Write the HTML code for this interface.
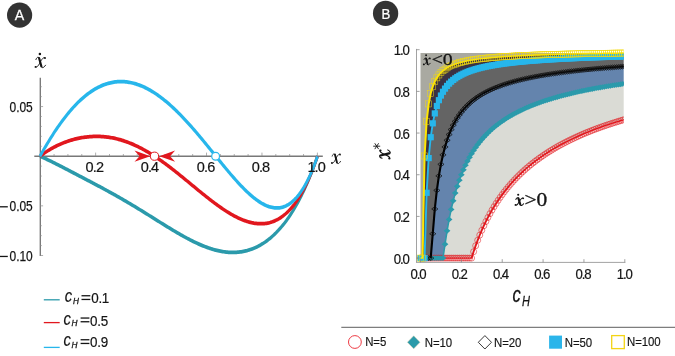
<!DOCTYPE html><html><head><meta charset="utf-8"><style>html,body{margin:0;padding:0;background:#fff}svg{display:block;will-change:transform;opacity:0.999}</style></head><body><svg width="675" height="356" viewBox="0 0 675 356">
<rect width="675" height="356" fill="#fff"/>
<circle cx="19.6" cy="15.1" r="12.6" fill="#333"/>
<text transform="translate(19.50,19.95) scale(0.975,1)" font-family="Liberation Sans" font-size="14.60" text-anchor="middle" fill="#fff" stroke="#fff" stroke-width="0.25">A</text>
<circle cx="385.6" cy="13.4" r="12.65" fill="#333"/>
<text transform="translate(385.90,18.50) scale(0.910,1)" font-family="Liberation Sans" font-size="14.60" text-anchor="middle" fill="#fff" stroke="#fff" stroke-width="0.25">B</text>
<g stroke="#787878" stroke-width="1.35" fill="none">
<line x1="34.3" y1="156.20" x2="322.8" y2="156.20"/>
<line x1="40.30" y1="77.8" x2="40.30" y2="256"/>
</g><g stroke="#8c8c8c" stroke-width="0.7" fill="none">
<line x1="54.06" y1="156.20" x2="54.06" y2="154.00"/>
<line x1="67.92" y1="156.20" x2="67.92" y2="154.00"/>
<line x1="81.78" y1="156.20" x2="81.78" y2="154.00"/>
<line x1="95.64" y1="156.20" x2="95.64" y2="152.60"/>
<line x1="109.50" y1="156.20" x2="109.50" y2="154.00"/>
<line x1="123.36" y1="156.20" x2="123.36" y2="154.00"/>
<line x1="137.22" y1="156.20" x2="137.22" y2="154.00"/>
<line x1="151.08" y1="156.20" x2="151.08" y2="152.60"/>
<line x1="164.94" y1="156.20" x2="164.94" y2="154.00"/>
<line x1="178.80" y1="156.20" x2="178.80" y2="154.00"/>
<line x1="192.66" y1="156.20" x2="192.66" y2="154.00"/>
<line x1="206.52" y1="156.20" x2="206.52" y2="152.60"/>
<line x1="220.38" y1="156.20" x2="220.38" y2="154.00"/>
<line x1="234.24" y1="156.20" x2="234.24" y2="154.00"/>
<line x1="248.10" y1="156.20" x2="248.10" y2="154.00"/>
<line x1="261.96" y1="156.20" x2="261.96" y2="152.60"/>
<line x1="275.82" y1="156.20" x2="275.82" y2="154.00"/>
<line x1="289.68" y1="156.20" x2="289.68" y2="154.00"/>
<line x1="303.54" y1="156.20" x2="303.54" y2="154.00"/>
<line x1="317.40" y1="156.20" x2="317.40" y2="152.60"/>
<line x1="40.20" y1="255.50" x2="43.10" y2="255.50"/>
<line x1="40.20" y1="245.57" x2="41.80" y2="245.57"/>
<line x1="40.20" y1="235.64" x2="41.80" y2="235.64"/>
<line x1="40.20" y1="225.71" x2="41.80" y2="225.71"/>
<line x1="40.20" y1="215.78" x2="41.80" y2="215.78"/>
<line x1="40.20" y1="205.85" x2="43.10" y2="205.85"/>
<line x1="40.20" y1="195.92" x2="41.80" y2="195.92"/>
<line x1="40.20" y1="185.99" x2="41.80" y2="185.99"/>
<line x1="40.20" y1="176.06" x2="41.80" y2="176.06"/>
<line x1="40.20" y1="166.13" x2="41.80" y2="166.13"/>
<line x1="40.20" y1="146.27" x2="41.80" y2="146.27"/>
<line x1="40.20" y1="136.34" x2="41.80" y2="136.34"/>
<line x1="40.20" y1="126.41" x2="41.80" y2="126.41"/>
<line x1="40.20" y1="116.48" x2="41.80" y2="116.48"/>
<line x1="40.20" y1="106.55" x2="43.10" y2="106.55"/>
<line x1="40.20" y1="96.62" x2="41.80" y2="96.62"/>
<line x1="40.20" y1="86.69" x2="41.80" y2="86.69"/>
</g>
<g transform="translate(330.90,153.30) scale(10.100,10.800)" fill="none" stroke="#141414" stroke-linecap="round"><path d="M0.13,0.26 C0.18,0.08 0.32,-0.03 0.41,0.12" stroke-width="0.085"/><path d="M0.40,0.12 L0.60,0.86" stroke-width="0.185"/><path d="M0.60,0.88 C0.65,1.03 0.80,0.99 0.95,0.75" stroke-width="0.085"/><path d="M0.91,0.11 C0.80,0.02 0.68,0.16 0.52,0.44 C0.40,0.66 0.27,0.99 0.10,0.90" stroke-width="0.085"/><circle cx="0.90" cy="0.115" r="0.085" fill="#141414" stroke="none"/><circle cx="0.10" cy="0.895" r="0.085" fill="#141414" stroke="none"/></g>
<g transform="translate(34.40,56.60) scale(11.700,11.500)" fill="none" stroke="#141414" stroke-linecap="round"><path d="M0.13,0.26 C0.18,0.08 0.32,-0.03 0.41,0.12" stroke-width="0.085"/><path d="M0.40,0.12 L0.60,0.86" stroke-width="0.185"/><path d="M0.60,0.88 C0.65,1.03 0.80,0.99 0.95,0.75" stroke-width="0.085"/><path d="M0.91,0.11 C0.80,0.02 0.68,0.16 0.52,0.44 C0.40,0.66 0.27,0.99 0.10,0.90" stroke-width="0.085"/><circle cx="0.90" cy="0.115" r="0.085" fill="#141414" stroke="none"/><circle cx="0.10" cy="0.895" r="0.085" fill="#141414" stroke="none"/></g>
<circle cx="39.9" cy="53.9" r="1.25" fill="#141414"/>
<g transform="scale(0.720,1)"><path d="M55.49,156.32 L57.10,156.80 L58.71,157.29 L60.31,157.80 L61.92,158.32 L63.52,158.84 L65.13,159.38 L66.74,159.92 L68.34,160.47 L69.95,161.03 L71.55,161.59 L73.16,162.16 L74.77,162.74 L76.37,163.31 L77.98,163.90 L79.58,164.48 L81.19,165.07 L82.80,165.66 L84.40,166.26 L86.01,166.85 L87.61,167.45 L89.22,168.05 L90.83,168.65 L92.43,169.25 L94.04,169.85 L95.64,170.45 L97.25,171.06 L98.86,171.66 L100.46,172.27 L102.07,172.87 L103.67,173.47 L105.28,174.08 L106.89,174.68 L108.49,175.29 L110.10,175.89 L111.70,176.50 L113.31,177.10 L114.92,177.71 L116.52,178.32 L118.13,178.92 L119.73,179.53 L121.34,180.14 L122.95,180.74 L124.55,181.35 L126.16,181.96 L127.77,182.57 L129.37,183.18 L130.98,183.79 L132.58,184.41 L134.19,185.02 L135.80,185.64 L137.40,186.25 L139.01,186.87 L140.61,187.49 L142.22,188.12 L143.83,188.74 L145.43,189.37 L147.04,190.00 L148.64,190.63 L150.25,191.26 L151.86,191.89 L153.46,192.53 L155.07,193.17 L156.67,193.82 L158.28,194.46 L159.89,195.11 L161.49,195.76 L163.10,196.42 L164.70,197.07 L166.31,197.73 L167.92,198.39 L169.52,199.06 L171.13,199.73 L172.73,200.40 L174.34,201.08 L175.95,201.75 L177.55,202.43 L179.16,203.12 L180.76,203.80 L182.37,204.49 L183.98,205.19 L185.58,205.88 L187.19,206.58 L188.79,207.28 L190.40,207.98 L192.01,208.69 L193.61,209.39 L195.22,210.10 L196.83,210.82 L198.43,211.53 L200.04,212.25 L201.64,212.96 L203.25,213.68 L204.86,214.40 L206.46,215.12 L208.07,215.85 L209.67,216.57 L211.28,217.30 L212.89,218.02 L214.49,218.75 L216.10,219.47 L217.70,220.20 L219.31,220.92 L220.92,221.64 L222.52,222.37 L224.13,223.09 L225.73,223.81 L227.34,224.53 L228.95,225.25 L230.55,225.96 L232.16,226.68 L233.76,227.39 L235.37,228.09 L236.98,228.80 L238.58,229.50 L240.19,230.19 L241.79,230.88 L243.40,231.57 L245.01,232.26 L246.61,232.93 L248.22,233.60 L249.82,234.27 L251.43,234.93 L253.04,235.58 L254.64,236.23 L256.25,236.87 L257.86,237.50 L259.46,238.13 L261.07,238.74 L262.67,239.35 L264.28,239.95 L265.89,240.54 L267.49,241.12 L269.10,241.68 L270.70,242.24 L272.31,242.79 L273.92,243.33 L275.52,243.85 L277.13,244.37 L278.73,244.87 L280.34,245.36 L281.95,245.83 L283.55,246.30 L285.16,246.74 L286.76,247.18 L288.37,247.60 L289.98,248.00 L291.58,248.39 L293.19,248.77 L294.79,249.13 L296.40,249.47 L298.01,249.79 L299.61,250.10 L301.22,250.39 L302.82,250.67 L304.43,250.92 L306.04,251.16 L307.64,251.38 L309.25,251.57 L310.85,251.75 L312.46,251.91 L314.07,252.05 L315.67,252.17 L317.28,252.26 L318.88,252.34 L320.49,252.39 L322.10,252.42 L323.70,252.43 L325.31,252.41 L326.92,252.37 L328.52,252.31 L330.13,252.22 L331.73,252.11 L333.34,251.97 L334.95,251.81 L336.55,251.62 L338.16,251.41 L339.76,251.17 L341.37,250.90 L342.98,250.61 L344.58,250.28 L346.19,249.93 L347.79,249.55 L349.40,249.15 L351.01,248.71 L352.61,248.24 L354.22,247.74 L355.82,247.21 L357.43,246.65 L359.04,246.06 L360.64,245.43 L362.25,244.78 L363.85,244.09 L365.46,243.36 L367.07,242.60 L368.67,241.81 L370.28,240.98 L371.88,240.11 L373.49,239.21 L375.10,238.27 L376.70,237.29 L378.31,236.27 L379.91,235.22 L381.52,234.12 L383.13,232.99 L384.73,231.81 L386.34,230.59 L387.94,229.32 L389.55,228.02 L391.16,226.67 L392.76,225.27 L394.37,223.82 L395.98,222.33 L397.58,220.79 L399.19,219.20 L400.79,217.57 L402.40,215.87 L404.01,214.13 L405.61,212.33 L407.22,210.48 L408.82,208.57 L410.43,206.61 L412.04,204.59 L413.64,202.50 L415.25,200.36 L416.85,198.15 L418.46,195.88 L420.07,193.54 L421.67,191.13 L423.28,188.66 L424.88,186.11 L426.49,183.49 L428.10,180.80 L429.70,178.03 L431.31,175.18 L432.91,172.25 L434.52,169.24 L436.13,166.14 L437.73,162.96 L439.34,159.68 L440.94,156.32" fill="none" stroke="#2b9aab" stroke-width="3.75" stroke-linejoin="round"/></g>
<g transform="scale(0.720,1)"><path d="M55.49,156.32 L57.10,155.43 L58.71,154.57 L60.31,153.73 L61.92,152.92 L63.52,152.14 L65.13,151.38 L66.74,150.64 L68.34,149.93 L69.95,149.24 L71.55,148.58 L73.16,147.93 L74.77,147.30 L76.37,146.70 L77.98,146.12 L79.58,145.55 L81.19,145.01 L82.80,144.48 L84.40,143.97 L86.01,143.48 L87.61,143.01 L89.22,142.55 L90.83,142.11 L92.43,141.69 L94.04,141.29 L95.64,140.90 L97.25,140.53 L98.86,140.18 L100.46,139.84 L102.07,139.52 L103.67,139.21 L105.28,138.92 L106.89,138.64 L108.49,138.39 L110.10,138.14 L111.70,137.92 L113.31,137.71 L114.92,137.51 L116.52,137.33 L118.13,137.17 L119.73,137.02 L121.34,136.88 L122.95,136.77 L124.55,136.66 L126.16,136.58 L127.77,136.51 L129.37,136.45 L130.98,136.42 L132.58,136.39 L134.19,136.39 L135.80,136.40 L137.40,136.42 L139.01,136.46 L140.61,136.52 L142.22,136.59 L143.83,136.68 L145.43,136.79 L147.04,136.91 L148.64,137.05 L150.25,137.20 L151.86,137.37 L153.46,137.56 L155.07,137.76 L156.67,137.98 L158.28,138.21 L159.89,138.46 L161.49,138.73 L163.10,139.02 L164.70,139.32 L166.31,139.63 L167.92,139.96 L169.52,140.31 L171.13,140.68 L172.73,141.06 L174.34,141.45 L175.95,141.86 L177.55,142.29 L179.16,142.73 L180.76,143.19 L182.37,143.67 L183.98,144.16 L185.58,144.66 L187.19,145.18 L188.79,145.72 L190.40,146.27 L192.01,146.83 L193.61,147.41 L195.22,148.00 L196.83,148.61 L198.43,149.23 L200.04,149.87 L201.64,150.52 L203.25,151.18 L204.86,151.85 L206.46,152.54 L208.07,153.24 L209.67,153.96 L211.28,154.68 L212.89,155.42 L214.49,156.17 L216.10,156.94 L217.70,157.71 L219.31,158.49 L220.92,159.29 L222.52,160.09 L224.13,160.91 L225.73,161.74 L227.34,162.57 L228.95,163.42 L230.55,164.27 L232.16,165.13 L233.76,166.00 L235.37,166.88 L236.98,167.76 L238.58,168.66 L240.19,169.56 L241.79,170.46 L243.40,171.37 L245.01,172.29 L246.61,173.22 L248.22,174.14 L249.82,175.08 L251.43,176.01 L253.04,176.96 L254.64,177.90 L256.25,178.85 L257.86,179.80 L259.46,180.75 L261.07,181.70 L262.67,182.66 L264.28,183.61 L265.89,184.57 L267.49,185.53 L269.10,186.48 L270.70,187.44 L272.31,188.39 L273.92,189.34 L275.52,190.29 L277.13,191.24 L278.73,192.18 L280.34,193.12 L281.95,194.05 L283.55,194.98 L285.16,195.91 L286.76,196.83 L288.37,197.74 L289.98,198.65 L291.58,199.55 L293.19,200.44 L294.79,201.33 L296.40,202.20 L298.01,203.07 L299.61,203.93 L301.22,204.77 L302.82,205.61 L304.43,206.44 L306.04,207.25 L307.64,208.05 L309.25,208.84 L310.85,209.61 L312.46,210.37 L314.07,211.12 L315.67,211.85 L317.28,212.57 L318.88,213.26 L320.49,213.95 L322.10,214.61 L323.70,215.26 L325.31,215.89 L326.92,216.50 L328.52,217.09 L330.13,217.66 L331.73,218.21 L333.34,218.73 L334.95,219.24 L336.55,219.72 L338.16,220.18 L339.76,220.61 L341.37,221.02 L342.98,221.41 L344.58,221.76 L346.19,222.09 L347.79,222.39 L349.40,222.67 L351.01,222.91 L352.61,223.13 L354.22,223.31 L355.82,223.46 L357.43,223.58 L359.04,223.67 L360.64,223.72 L362.25,223.74 L363.85,223.72 L365.46,223.66 L367.07,223.57 L368.67,223.44 L370.28,223.27 L371.88,223.05 L373.49,222.80 L375.10,222.50 L376.70,222.16 L378.31,221.78 L379.91,221.35 L381.52,220.87 L383.13,220.34 L384.73,219.77 L386.34,219.14 L387.94,218.47 L389.55,217.74 L391.16,216.95 L392.76,216.11 L394.37,215.21 L395.98,214.25 L397.58,213.24 L399.19,212.16 L400.79,211.01 L402.40,209.81 L404.01,208.53 L405.61,207.19 L407.22,205.78 L408.82,204.30 L410.43,202.74 L412.04,201.11 L413.64,199.40 L415.25,197.61 L416.85,195.74 L418.46,193.78 L420.07,191.74 L421.67,189.61 L423.28,187.40 L424.88,185.09 L426.49,182.68 L428.10,180.18 L429.70,177.57 L431.31,174.87 L432.91,172.06 L434.52,169.14 L436.13,166.11 L437.73,162.96 L439.34,159.70 L440.94,156.32" fill="none" stroke="#e1171e" stroke-width="3.75" stroke-linejoin="round"/></g>
<g transform="scale(0.720,1)"><path d="M55.49,156.32 L57.10,154.25 L58.71,152.20 L60.31,150.18 L61.92,148.18 L63.52,146.20 L65.13,144.25 L66.74,142.33 L68.34,140.43 L69.95,138.56 L71.55,136.71 L73.16,134.90 L74.77,133.11 L76.37,131.34 L77.98,129.61 L79.58,127.90 L81.19,126.23 L82.80,124.58 L84.40,122.96 L86.01,121.37 L87.61,119.82 L89.22,118.29 L90.83,116.79 L92.43,115.32 L94.04,113.88 L95.64,112.48 L97.25,111.10 L98.86,109.76 L100.46,108.45 L102.07,107.16 L103.67,105.91 L105.28,104.70 L106.89,103.51 L108.49,102.35 L110.10,101.23 L111.70,100.14 L113.31,99.08 L114.92,98.05 L116.52,97.05 L118.13,96.08 L119.73,95.15 L121.34,94.25 L122.95,93.38 L124.55,92.54 L126.16,91.73 L127.77,90.96 L129.37,90.21 L130.98,89.50 L132.58,88.82 L134.19,88.17 L135.80,87.55 L137.40,86.96 L139.01,86.41 L140.61,85.88 L142.22,85.39 L143.83,84.92 L145.43,84.49 L147.04,84.09 L148.64,83.72 L150.25,83.38 L151.86,83.06 L153.46,82.78 L155.07,82.53 L156.67,82.31 L158.28,82.12 L159.89,81.96 L161.49,81.83 L163.10,81.73 L164.70,81.65 L166.31,81.61 L167.92,81.59 L169.52,81.61 L171.13,81.65 L172.73,81.72 L174.34,81.82 L175.95,81.94 L177.55,82.10 L179.16,82.28 L180.76,82.49 L182.37,82.73 L183.98,82.99 L185.58,83.28 L187.19,83.60 L188.79,83.94 L190.40,84.31 L192.01,84.71 L193.61,85.13 L195.22,85.58 L196.83,86.05 L198.43,86.55 L200.04,87.07 L201.64,87.62 L203.25,88.20 L204.86,88.79 L206.46,89.42 L208.07,90.06 L209.67,90.73 L211.28,91.42 L212.89,92.14 L214.49,92.88 L216.10,93.64 L217.70,94.42 L219.31,95.23 L220.92,96.06 L222.52,96.91 L224.13,97.78 L225.73,98.67 L227.34,99.58 L228.95,100.51 L230.55,101.47 L232.16,102.44 L233.76,103.43 L235.37,104.44 L236.98,105.47 L238.58,106.52 L240.19,107.59 L241.79,108.67 L243.40,109.77 L245.01,110.89 L246.61,112.03 L248.22,113.18 L249.82,114.35 L251.43,115.53 L253.04,116.73 L254.64,117.95 L256.25,119.17 L257.86,120.42 L259.46,121.67 L261.07,122.94 L262.67,124.22 L264.28,125.52 L265.89,126.82 L267.49,128.14 L269.10,129.47 L270.70,130.81 L272.31,132.16 L273.92,133.51 L275.52,134.88 L277.13,136.26 L278.73,137.64 L280.34,139.03 L281.95,140.43 L283.55,141.83 L285.16,143.24 L286.76,144.65 L288.37,146.07 L289.98,147.49 L291.58,148.92 L293.19,150.34 L294.79,151.77 L296.40,153.20 L298.01,154.63 L299.61,156.06 L301.22,157.49 L302.82,158.92 L304.43,160.35 L306.04,161.77 L307.64,163.19 L309.25,164.60 L310.85,166.01 L312.46,167.41 L314.07,168.81 L315.67,170.20 L317.28,171.58 L318.88,172.95 L320.49,174.31 L322.10,175.65 L323.70,176.99 L325.31,178.31 L326.92,179.62 L328.52,180.91 L330.13,182.19 L331.73,183.45 L333.34,184.69 L334.95,185.91 L336.55,187.12 L338.16,188.30 L339.76,189.46 L341.37,190.60 L342.98,191.71 L344.58,192.79 L346.19,193.85 L347.79,194.88 L349.40,195.89 L351.01,196.86 L352.61,197.80 L354.22,198.71 L355.82,199.58 L357.43,200.42 L359.04,201.22 L360.64,201.98 L362.25,202.71 L363.85,203.39 L365.46,204.03 L367.07,204.63 L368.67,205.18 L370.28,205.69 L371.88,206.15 L373.49,206.56 L375.10,206.92 L376.70,207.22 L378.31,207.48 L379.91,207.67 L381.52,207.81 L383.13,207.89 L384.73,207.91 L386.34,207.87 L387.94,207.77 L389.55,207.60 L391.16,207.36 L392.76,207.06 L394.37,206.68 L395.98,206.23 L397.58,205.71 L399.19,205.11 L400.79,204.43 L402.40,203.67 L404.01,202.84 L405.61,201.91 L407.22,200.91 L408.82,199.81 L410.43,198.63 L412.04,197.35 L413.64,195.98 L415.25,194.52 L416.85,192.95 L418.46,191.29 L420.07,189.53 L421.67,187.66 L423.28,185.69 L424.88,183.60 L426.49,181.41 L428.10,179.10 L429.70,176.68 L431.31,174.14 L432.91,171.49 L434.52,168.71 L436.13,165.80 L437.73,162.77 L439.34,159.61 L440.94,156.32" fill="none" stroke="#27b6eb" stroke-width="3.75" stroke-linejoin="round"/></g>
<path d="M150.30,156.20 L134.50,150.60 L139.50,156.20 L134.50,161.80 Z" fill="#e1171e"/>
<path d="M159.30,156.20 L175.10,150.60 L170.10,156.20 L175.10,161.80 Z" fill="#e1171e"/>
<circle cx="154.5" cy="156.20" r="4.1" fill="#fff" stroke="#e1171e" stroke-width="1.0"/>
<circle cx="215.6" cy="156.20" r="3.9" fill="#fff" stroke="#27b6eb" stroke-width="1.2"/>
<text transform="translate(85.50,172.20) scale(1.000,1)" font-family="Liberation Sans" font-size="14.50" text-anchor="start" fill="#141414" letter-spacing="-0.85" stroke="#141414" stroke-width="0.20">0.2</text>
<text transform="translate(140.70,172.20) scale(1.000,1)" font-family="Liberation Sans" font-size="14.50" text-anchor="start" fill="#141414" letter-spacing="-0.85" stroke="#141414" stroke-width="0.20">0.4</text>
<text transform="translate(196.80,172.20) scale(1.000,1)" font-family="Liberation Sans" font-size="14.50" text-anchor="start" fill="#141414" letter-spacing="-0.85" stroke="#141414" stroke-width="0.20">0.6</text>
<text transform="translate(251.70,172.20) scale(1.000,1)" font-family="Liberation Sans" font-size="14.50" text-anchor="start" fill="#141414" letter-spacing="-0.85" stroke="#141414" stroke-width="0.20">0.8</text>
<text transform="translate(307.40,172.20) scale(1.000,1)" font-family="Liberation Sans" font-size="14.50" text-anchor="start" fill="#141414" letter-spacing="-0.85" stroke="#141414" stroke-width="0.20">1.0</text>
<text transform="translate(9.50,112.00) scale(0.787,1)" font-family="Liberation Sans" font-size="15.20" text-anchor="start" fill="#141414" stroke="#141414" stroke-width="0.25">0.05</text>
<text transform="translate(9.50,211.30) scale(0.787,1)" font-family="Liberation Sans" font-size="15.20" text-anchor="start" fill="#141414" stroke="#141414" stroke-width="0.25">0.05</text>
<rect x="-1" y="206.15" width="8.8" height="1.3" fill="#141414"/>
<text transform="translate(9.50,260.95) scale(0.787,1)" font-family="Liberation Sans" font-size="15.20" text-anchor="start" fill="#141414" stroke="#141414" stroke-width="0.25">0.10</text>
<rect x="-1" y="255.80" width="8.8" height="1.3" fill="#141414"/>
<line x1="43.8" y1="299.80" x2="59.7" y2="299.80" stroke="#2b9aab" stroke-width="1.3"/>
<text transform="translate(64.70,302.40) scale(0.820,1)" font-family="Liberation Sans" font-size="18.00" text-anchor="start" fill="#141414" font-style="italic" stroke="#141414" stroke-width="0.20">c</text>
<text transform="translate(73.00,304.10) scale(0.860,1)" font-family="Liberation Sans" font-size="9.60" text-anchor="start" fill="#141414" font-style="italic" stroke="#141414" stroke-width="0.30">H</text>
<rect x="81.50" y="295.10" width="8.8" height="1.3" fill="#141414"/><rect x="81.50" y="298.80" width="8.8" height="1.3" fill="#141414"/>
<text transform="translate(91.20,303.20) scale(0.920,1)" font-family="Liberation Sans" font-size="14.60" text-anchor="start" fill="#141414" letter-spacing="-0.30" stroke="#141414" stroke-width="0.20">0.1</text>
<line x1="43.8" y1="322.60" x2="59.7" y2="322.60" stroke="#e1171e" stroke-width="1.3"/>
<text transform="translate(63.40,324.70) scale(0.820,1)" font-family="Liberation Sans" font-size="18.00" text-anchor="start" fill="#141414" font-style="italic" stroke="#141414" stroke-width="0.20">c</text>
<text transform="translate(71.40,326.40) scale(0.860,1)" font-family="Liberation Sans" font-size="9.60" text-anchor="start" fill="#141414" font-style="italic" stroke="#141414" stroke-width="0.30">H</text>
<rect x="80.60" y="317.40" width="8.8" height="1.3" fill="#141414"/><rect x="80.60" y="321.10" width="8.8" height="1.3" fill="#141414"/>
<text transform="translate(90.10,325.50) scale(0.920,1)" font-family="Liberation Sans" font-size="14.60" text-anchor="start" fill="#141414" letter-spacing="-0.30" stroke="#141414" stroke-width="0.20">0.5</text>
<line x1="43.8" y1="347.40" x2="59.7" y2="347.40" stroke="#27b6eb" stroke-width="1.3"/>
<text transform="translate(63.40,346.40) scale(0.820,1)" font-family="Liberation Sans" font-size="18.00" text-anchor="start" fill="#141414" font-style="italic" stroke="#141414" stroke-width="0.20">c</text>
<text transform="translate(71.40,348.10) scale(0.860,1)" font-family="Liberation Sans" font-size="9.60" text-anchor="start" fill="#141414" font-style="italic" stroke="#141414" stroke-width="0.30">H</text>
<rect x="80.60" y="339.10" width="8.8" height="1.3" fill="#141414"/><rect x="80.60" y="342.80" width="8.8" height="1.3" fill="#141414"/>
<text transform="translate(90.10,347.20) scale(0.920,1)" font-family="Liberation Sans" font-size="14.60" text-anchor="start" fill="#141414" letter-spacing="-0.30" stroke="#141414" stroke-width="0.20">0.9</text>
<clipPath id="cm"><rect x="410" y="40" width="213.70" height="230"/></clipPath>
<g clip-path="url(#cm)">
<path d="M420.50,53.03 L422.54,53.03 L424.59,53.03 L426.63,53.03 L428.67,53.03 L430.71,53.03 L432.76,53.03 L434.80,53.03 L436.84,53.03 L438.89,53.03 L440.93,53.03 L442.97,53.03 L445.02,53.03 L447.06,53.03 L449.10,53.03 L451.14,53.03 L453.19,53.03 L455.23,53.03 L457.27,53.03 L459.32,53.03 L461.36,53.03 L463.40,53.03 L465.45,53.03 L467.49,53.03 L469.53,53.03 L471.57,53.03 L473.62,53.03 L475.66,53.03 L477.70,53.03 L479.75,53.03 L481.79,53.03 L483.83,53.03 L485.88,53.03 L487.92,53.03 L489.96,53.03 L492.00,53.03 L494.05,53.03 L496.09,53.03 L498.13,53.03 L500.18,53.03 L502.22,53.03 L504.26,53.03 L506.31,53.03 L508.35,53.03 L510.39,53.03 L512.43,53.03 L514.48,53.03 L516.52,53.03 L518.56,53.03 L520.61,53.03 L522.65,53.03 L524.69,53.03 L526.74,53.03 L528.78,53.03 L530.82,53.03 L532.87,53.03 L534.91,53.03 L536.95,53.03 L538.99,53.03 L541.04,53.03 L543.08,53.03 L545.12,53.03 L547.17,53.03 L549.21,53.03 L551.25,53.03 L553.30,53.03 L555.34,53.03 L557.38,53.03 L559.42,53.03 L561.47,53.03 L563.51,53.03 L565.55,53.03 L567.60,53.03 L569.64,53.03 L571.68,53.03 L573.73,53.03 L575.77,53.03 L577.81,53.03 L579.85,53.03 L581.90,53.03 L583.94,53.03 L585.98,53.03 L588.03,53.03 L590.07,53.03 L592.11,53.03 L594.15,53.03 L596.20,53.03 L598.24,53.03 L600.28,53.03 L602.33,53.03 L604.37,53.03 L606.41,53.03 L608.46,53.03 L610.50,53.03 L612.54,53.03 L614.59,53.03 L616.63,53.03 L618.67,53.03 L620.71,53.03 L622.76,53.03 L624.80,53.03 L624.80,53.03 L622.76,53.06 L620.71,53.08 L618.67,53.11 L616.63,53.14 L614.59,53.17 L612.54,53.21 L610.50,53.24 L608.46,53.27 L606.41,53.30 L604.37,53.34 L602.33,53.37 L600.28,53.40 L598.24,53.44 L596.20,53.48 L594.15,53.51 L592.11,53.55 L590.07,53.59 L588.03,53.63 L585.98,53.67 L583.94,53.71 L581.90,53.75 L579.85,53.79 L577.81,53.84 L575.77,53.88 L573.73,53.93 L571.68,53.98 L569.64,54.02 L567.60,54.07 L565.55,54.12 L563.51,54.18 L561.47,54.23 L559.42,54.28 L557.38,54.34 L555.34,54.40 L553.30,54.46 L551.25,54.52 L549.21,54.58 L547.17,54.64 L545.12,54.71 L543.08,54.78 L541.04,54.85 L538.99,54.92 L536.95,55.00 L534.91,55.07 L532.87,55.15 L530.82,55.23 L528.78,55.32 L526.74,55.41 L524.69,55.50 L522.65,55.59 L520.61,55.69 L518.56,55.79 L516.52,55.89 L514.48,56.00 L512.43,56.11 L510.39,56.23 L508.35,56.35 L506.31,56.48 L504.26,56.62 L502.22,56.76 L500.18,56.90 L498.13,57.05 L496.09,57.22 L494.05,57.38 L492.00,57.56 L489.96,57.75 L487.92,57.95 L485.88,58.16 L483.83,58.38 L481.79,58.61 L479.75,58.86 L477.70,59.13 L475.66,59.42 L473.62,59.72 L471.57,60.05 L469.53,60.41 L467.49,60.80 L465.45,61.22 L463.40,61.67 L461.36,62.18 L459.32,62.73 L457.27,63.35 L455.23,64.03 L453.19,64.80 L451.14,65.67 L449.10,66.67 L447.06,67.81 L445.02,69.15 L442.97,70.73 L440.93,72.62 L438.89,74.94 L436.84,77.83 L434.80,81.56 L432.76,86.52 L430.71,93.46 L428.67,103.88 L426.63,121.25 L424.59,155.98 L422.54,258.10 L420.50,258.10 Z" fill="#a9a9a1"/>
<path d="M420.50,258.10 L422.54,258.10 L424.59,155.98 L426.63,121.25 L428.67,103.88 L430.71,93.46 L432.76,86.52 L434.80,81.56 L436.84,77.83 L438.89,74.94 L440.93,72.62 L442.97,70.73 L445.02,69.15 L447.06,67.81 L449.10,66.67 L451.14,65.67 L453.19,64.80 L455.23,64.03 L457.27,63.35 L459.32,62.73 L461.36,62.18 L463.40,61.67 L465.45,61.22 L467.49,60.80 L469.53,60.41 L471.57,60.05 L473.62,59.72 L475.66,59.42 L477.70,59.13 L479.75,58.86 L481.79,58.61 L483.83,58.38 L485.88,58.16 L487.92,57.95 L489.96,57.75 L492.00,57.56 L494.05,57.38 L496.09,57.22 L498.13,57.05 L500.18,56.90 L502.22,56.76 L504.26,56.62 L506.31,56.48 L508.35,56.35 L510.39,56.23 L512.43,56.11 L514.48,56.00 L516.52,55.89 L518.56,55.79 L520.61,55.69 L522.65,55.59 L524.69,55.50 L526.74,55.41 L528.78,55.32 L530.82,55.23 L532.87,55.15 L534.91,55.07 L536.95,55.00 L538.99,54.92 L541.04,54.85 L543.08,54.78 L545.12,54.71 L547.17,54.64 L549.21,54.58 L551.25,54.52 L553.30,54.46 L555.34,54.40 L557.38,54.34 L559.42,54.28 L561.47,54.23 L563.51,54.18 L565.55,54.12 L567.60,54.07 L569.64,54.02 L571.68,53.98 L573.73,53.93 L575.77,53.88 L577.81,53.84 L579.85,53.79 L581.90,53.75 L583.94,53.71 L585.98,53.67 L588.03,53.63 L590.07,53.59 L592.11,53.55 L594.15,53.51 L596.20,53.48 L598.24,53.44 L600.28,53.40 L602.33,53.37 L604.37,53.34 L606.41,53.30 L608.46,53.27 L610.50,53.24 L612.54,53.21 L614.59,53.17 L616.63,53.14 L618.67,53.11 L620.71,53.08 L622.76,53.06 L624.80,53.03 L624.80,56.37 L622.76,56.43 L620.71,56.48 L618.67,56.54 L616.63,56.60 L614.59,56.66 L612.54,56.73 L610.50,56.79 L608.46,56.85 L606.41,56.92 L604.37,56.99 L602.33,57.05 L600.28,57.12 L598.24,57.20 L596.20,57.27 L594.15,57.34 L592.11,57.42 L590.07,57.49 L588.03,57.57 L585.98,57.65 L583.94,57.74 L581.90,57.82 L579.85,57.91 L577.81,57.99 L575.77,58.08 L573.73,58.18 L571.68,58.27 L569.64,58.37 L567.60,58.47 L565.55,58.57 L563.51,58.67 L561.47,58.78 L559.42,58.89 L557.38,59.00 L555.34,59.11 L553.30,59.23 L551.25,59.35 L549.21,59.48 L547.17,59.61 L545.12,59.74 L543.08,59.88 L541.04,60.02 L538.99,60.16 L536.95,60.31 L534.91,60.46 L532.87,60.62 L530.82,60.79 L528.78,60.95 L526.74,61.13 L524.69,61.31 L522.65,61.50 L520.61,61.69 L518.56,61.89 L516.52,62.10 L514.48,62.32 L512.43,62.55 L510.39,62.78 L508.35,63.03 L506.31,63.28 L504.26,63.55 L502.22,63.83 L500.18,64.12 L498.13,64.43 L496.09,64.75 L494.05,65.09 L492.00,65.44 L489.96,65.81 L487.92,66.21 L485.88,66.63 L483.83,67.07 L481.79,67.54 L479.75,68.04 L477.70,68.58 L475.66,69.15 L473.62,69.76 L471.57,70.42 L469.53,71.13 L467.49,71.90 L465.45,72.74 L463.40,73.66 L461.36,74.66 L459.32,75.77 L457.27,77.00 L455.23,78.37 L453.19,79.90 L451.14,81.65 L449.10,83.63 L447.06,85.93 L445.02,88.60 L442.97,91.76 L440.93,95.55 L438.89,100.18 L436.84,105.97 L434.80,113.41 L432.76,123.33 L430.71,137.23 L428.67,158.07 L426.63,192.80 L424.59,258.10 L422.54,258.10 L420.50,258.10 Z" fill="#3a3244"/>
<path d="M420.50,258.10 L422.54,258.10 L424.59,258.10 L426.63,192.80 L428.67,158.07 L430.71,137.23 L432.76,123.33 L434.80,113.41 L436.84,105.97 L438.89,100.18 L440.93,95.55 L442.97,91.76 L445.02,88.60 L447.06,85.93 L449.10,83.63 L451.14,81.65 L453.19,79.90 L455.23,78.37 L457.27,77.00 L459.32,75.77 L461.36,74.66 L463.40,73.66 L465.45,72.74 L467.49,71.90 L469.53,71.13 L471.57,70.42 L473.62,69.76 L475.66,69.15 L477.70,68.58 L479.75,68.04 L481.79,67.54 L483.83,67.07 L485.88,66.63 L487.92,66.21 L489.96,65.81 L492.00,65.44 L494.05,65.09 L496.09,64.75 L498.13,64.43 L500.18,64.12 L502.22,63.83 L504.26,63.55 L506.31,63.28 L508.35,63.03 L510.39,62.78 L512.43,62.55 L514.48,62.32 L516.52,62.10 L518.56,61.89 L520.61,61.69 L522.65,61.50 L524.69,61.31 L526.74,61.13 L528.78,60.95 L530.82,60.79 L532.87,60.62 L534.91,60.46 L536.95,60.31 L538.99,60.16 L541.04,60.02 L543.08,59.88 L545.12,59.74 L547.17,59.61 L549.21,59.48 L551.25,59.35 L553.30,59.23 L555.34,59.11 L557.38,59.00 L559.42,58.89 L561.47,58.78 L563.51,58.67 L565.55,58.57 L567.60,58.47 L569.64,58.37 L571.68,58.27 L573.73,58.18 L575.77,58.08 L577.81,57.99 L579.85,57.91 L581.90,57.82 L583.94,57.74 L585.98,57.65 L588.03,57.57 L590.07,57.49 L592.11,57.42 L594.15,57.34 L596.20,57.27 L598.24,57.20 L600.28,57.12 L602.33,57.05 L604.37,56.99 L606.41,56.92 L608.46,56.85 L610.50,56.79 L612.54,56.73 L614.59,56.66 L616.63,56.60 L618.67,56.54 L620.71,56.48 L622.76,56.43 L624.80,56.37 L624.80,66.48 L622.76,66.63 L620.71,66.77 L618.67,66.92 L616.63,67.07 L614.59,67.22 L612.54,67.38 L610.50,67.54 L608.46,67.70 L606.41,67.86 L604.37,68.03 L602.33,68.20 L600.28,68.38 L598.24,68.56 L596.20,68.74 L594.15,68.93 L592.11,69.12 L590.07,69.31 L588.03,69.51 L585.98,69.71 L583.94,69.92 L581.90,70.13 L579.85,70.34 L577.81,70.57 L575.77,70.79 L573.73,71.02 L571.68,71.26 L569.64,71.50 L567.60,71.75 L565.55,72.01 L563.51,72.27 L561.47,72.53 L559.42,72.81 L557.38,73.09 L555.34,73.38 L553.30,73.67 L551.25,73.98 L549.21,74.29 L547.17,74.61 L545.12,74.95 L543.08,75.29 L541.04,75.64 L538.99,76.00 L536.95,76.37 L534.91,76.76 L532.87,77.15 L530.82,77.56 L528.78,77.99 L526.74,78.42 L524.69,78.88 L522.65,79.35 L520.61,79.83 L518.56,80.34 L516.52,80.86 L514.48,81.40 L512.43,81.97 L510.39,82.56 L508.35,83.17 L506.31,83.81 L504.26,84.47 L502.22,85.17 L500.18,85.90 L498.13,86.66 L496.09,87.46 L494.05,88.30 L492.00,89.19 L489.96,90.12 L487.92,91.10 L485.88,92.14 L483.83,93.25 L481.79,94.42 L479.75,95.66 L477.70,96.99 L475.66,98.42 L473.62,99.94 L471.57,101.59 L469.53,103.36 L467.49,105.28 L465.45,107.37 L463.40,109.65 L461.36,112.15 L459.32,114.91 L457.27,117.97 L455.23,121.39 L453.19,125.23 L451.14,129.58 L449.10,134.54 L447.06,140.27 L445.02,146.95 L442.97,154.85 L440.93,164.32 L438.89,175.90 L436.84,190.37 L434.80,208.98 L432.76,233.79 L430.71,258.10 L428.67,258.10 L426.63,258.10 L424.59,258.10 L422.54,258.10 L420.50,258.10 Z" fill="#646464"/>
<path d="M420.50,258.10 L422.54,258.10 L424.59,258.10 L426.63,258.10 L428.67,258.10 L430.71,258.10 L432.76,233.79 L434.80,208.98 L436.84,190.37 L438.89,175.90 L440.93,164.32 L442.97,154.85 L445.02,146.95 L447.06,140.27 L449.10,134.54 L451.14,129.58 L453.19,125.23 L455.23,121.39 L457.27,117.97 L459.32,114.91 L461.36,112.15 L463.40,109.65 L465.45,107.37 L467.49,105.28 L469.53,103.36 L471.57,101.59 L473.62,99.94 L475.66,98.42 L477.70,96.99 L479.75,95.66 L481.79,94.42 L483.83,93.25 L485.88,92.14 L487.92,91.10 L489.96,90.12 L492.00,89.19 L494.05,88.30 L496.09,87.46 L498.13,86.66 L500.18,85.90 L502.22,85.17 L504.26,84.47 L506.31,83.81 L508.35,83.17 L510.39,82.56 L512.43,81.97 L514.48,81.40 L516.52,80.86 L518.56,80.34 L520.61,79.83 L522.65,79.35 L524.69,78.88 L526.74,78.42 L528.78,77.99 L530.82,77.56 L532.87,77.15 L534.91,76.76 L536.95,76.37 L538.99,76.00 L541.04,75.64 L543.08,75.29 L545.12,74.95 L547.17,74.61 L549.21,74.29 L551.25,73.98 L553.30,73.67 L555.34,73.38 L557.38,73.09 L559.42,72.81 L561.47,72.53 L563.51,72.27 L565.55,72.01 L567.60,71.75 L569.64,71.50 L571.68,71.26 L573.73,71.02 L575.77,70.79 L577.81,70.57 L579.85,70.34 L581.90,70.13 L583.94,69.92 L585.98,69.71 L588.03,69.51 L590.07,69.31 L592.11,69.12 L594.15,68.93 L596.20,68.74 L598.24,68.56 L600.28,68.38 L602.33,68.20 L604.37,68.03 L606.41,67.86 L608.46,67.70 L610.50,67.54 L612.54,67.38 L614.59,67.22 L616.63,67.07 L618.67,66.92 L620.71,66.77 L622.76,66.63 L624.80,66.48 L624.80,83.66 L622.76,83.94 L620.71,84.24 L618.67,84.54 L616.63,84.84 L614.59,85.15 L612.54,85.47 L610.50,85.79 L608.46,86.12 L606.41,86.45 L604.37,86.79 L602.33,87.14 L600.28,87.49 L598.24,87.85 L596.20,88.22 L594.15,88.60 L592.11,88.98 L590.07,89.37 L588.03,89.77 L585.98,90.18 L583.94,90.60 L581.90,91.02 L579.85,91.46 L577.81,91.91 L575.77,92.36 L573.73,92.83 L571.68,93.31 L569.64,93.79 L567.60,94.29 L565.55,94.81 L563.51,95.33 L561.47,95.87 L559.42,96.42 L557.38,96.99 L555.34,97.57 L553.30,98.16 L551.25,98.78 L549.21,99.40 L547.17,100.05 L545.12,100.72 L543.08,101.40 L541.04,102.11 L538.99,102.83 L536.95,103.58 L534.91,104.35 L532.87,105.14 L530.82,105.96 L528.78,106.81 L526.74,107.69 L524.69,108.59 L522.65,109.53 L520.61,110.50 L518.56,111.51 L516.52,112.55 L514.48,113.64 L512.43,114.76 L510.39,115.93 L508.35,117.15 L506.31,118.42 L504.26,119.75 L502.22,121.13 L500.18,122.58 L498.13,124.10 L496.09,125.69 L494.05,127.36 L492.00,129.12 L489.96,130.97 L487.92,132.92 L485.88,134.99 L483.83,137.17 L481.79,139.50 L479.75,141.97 L477.70,144.61 L475.66,147.43 L473.62,150.46 L471.57,153.71 L469.53,157.23 L467.49,161.05 L465.45,165.19 L463.40,169.73 L461.36,174.71 L459.32,180.21 L457.27,186.31 L455.23,193.12 L453.19,200.79 L451.14,209.47 L449.10,219.40 L447.06,230.85 L445.02,244.21 L442.97,258.10 L440.93,258.10 L438.89,258.10 L436.84,258.10 L434.80,258.10 L432.76,258.10 L430.71,258.10 L428.67,258.10 L426.63,258.10 L424.59,258.10 L422.54,258.10 L420.50,258.10 Z" fill="#6484ad"/>
<path d="M420.50,258.10 L422.54,258.10 L424.59,258.10 L426.63,258.10 L428.67,258.10 L430.71,258.10 L432.76,258.10 L434.80,258.10 L436.84,258.10 L438.89,258.10 L440.93,258.10 L442.97,258.10 L445.02,244.21 L447.06,230.85 L449.10,219.40 L451.14,209.47 L453.19,200.79 L455.23,193.12 L457.27,186.31 L459.32,180.21 L461.36,174.71 L463.40,169.73 L465.45,165.19 L467.49,161.05 L469.53,157.23 L471.57,153.71 L473.62,150.46 L475.66,147.43 L477.70,144.61 L479.75,141.97 L481.79,139.50 L483.83,137.17 L485.88,134.99 L487.92,132.92 L489.96,130.97 L492.00,129.12 L494.05,127.36 L496.09,125.69 L498.13,124.10 L500.18,122.58 L502.22,121.13 L504.26,119.75 L506.31,118.42 L508.35,117.15 L510.39,115.93 L512.43,114.76 L514.48,113.64 L516.52,112.55 L518.56,111.51 L520.61,110.50 L522.65,109.53 L524.69,108.59 L526.74,107.69 L528.78,106.81 L530.82,105.96 L532.87,105.14 L534.91,104.35 L536.95,103.58 L538.99,102.83 L541.04,102.11 L543.08,101.40 L545.12,100.72 L547.17,100.05 L549.21,99.40 L551.25,98.78 L553.30,98.16 L555.34,97.57 L557.38,96.99 L559.42,96.42 L561.47,95.87 L563.51,95.33 L565.55,94.81 L567.60,94.29 L569.64,93.79 L571.68,93.31 L573.73,92.83 L575.77,92.36 L577.81,91.91 L579.85,91.46 L581.90,91.02 L583.94,90.60 L585.98,90.18 L588.03,89.77 L590.07,89.37 L592.11,88.98 L594.15,88.60 L596.20,88.22 L598.24,87.85 L600.28,87.49 L602.33,87.14 L604.37,86.79 L606.41,86.45 L608.46,86.12 L610.50,85.79 L612.54,85.47 L614.59,85.15 L616.63,84.84 L618.67,84.54 L620.71,84.24 L622.76,83.94 L624.80,83.66 L624.80,119.47 L622.76,120.06 L620.71,120.67 L618.67,121.28 L616.63,121.91 L614.59,122.55 L612.54,123.20 L610.50,123.86 L608.46,124.53 L606.41,125.22 L604.37,125.92 L602.33,126.63 L600.28,127.36 L598.24,128.10 L596.20,128.85 L594.15,129.62 L592.11,130.40 L590.07,131.21 L588.03,132.02 L585.98,132.86 L583.94,133.71 L581.90,134.58 L579.85,135.47 L577.81,136.38 L575.77,137.30 L573.73,138.25 L571.68,139.22 L569.64,140.22 L567.60,141.23 L565.55,142.27 L563.51,143.34 L561.47,144.43 L559.42,145.54 L557.38,146.69 L555.34,147.86 L553.30,149.06 L551.25,150.30 L549.21,151.57 L547.17,152.87 L545.12,154.20 L543.08,155.58 L541.04,156.99 L538.99,158.44 L536.95,159.94 L534.91,161.48 L532.87,163.06 L530.82,164.70 L528.78,166.38 L526.74,168.12 L524.69,169.92 L522.65,171.78 L520.61,173.70 L518.56,175.69 L516.52,177.75 L514.48,179.88 L512.43,182.09 L510.39,184.39 L508.35,186.79 L506.31,189.27 L504.26,191.87 L502.22,194.57 L500.18,197.39 L498.13,200.35 L496.09,203.44 L494.05,206.69 L492.00,210.10 L489.96,213.70 L487.92,217.49 L485.88,221.50 L483.83,225.75 L481.79,230.27 L479.75,235.08 L477.70,240.23 L475.66,245.75 L473.62,251.69 L471.57,258.10 L469.53,258.10 L467.49,258.10 L465.45,258.10 L463.40,258.10 L461.36,258.10 L459.32,258.10 L457.27,258.10 L455.23,258.10 L453.19,258.10 L451.14,258.10 L449.10,258.10 L447.06,258.10 L445.02,258.10 L442.97,258.10 L440.93,258.10 L438.89,258.10 L436.84,258.10 L434.80,258.10 L432.76,258.10 L430.71,258.10 L428.67,258.10 L426.63,258.10 L424.59,258.10 L422.54,258.10 L420.50,258.10 Z" fill="#dadbd5"/>
<g transform="scale(1,0.740)"><path d="M420.50,348.78 L422.54,348.78 L424.59,348.78 L426.63,348.78 L428.67,348.78 L430.71,348.78 L432.76,348.78 L434.80,348.78 L436.84,348.78 L438.89,348.78 L440.93,348.78 L442.97,348.78 L445.02,348.78 L447.06,348.78 L449.10,348.78 L451.14,348.78 L453.19,348.78 L455.23,348.78 L457.27,348.78 L459.32,348.78 L461.36,348.78 L463.40,348.78 L465.45,348.78 L467.49,348.78 L469.53,348.78 L471.57,348.78 L473.62,340.12 L475.66,332.09 L477.70,324.63 L479.75,317.68 L481.79,311.17 L483.83,305.07 L485.88,299.32 L487.92,293.90 L489.96,288.78 L492.00,283.92 L494.05,279.31 L496.09,274.92 L498.13,270.74 L500.18,266.75 L502.22,262.93 L504.26,259.28 L506.31,255.78 L508.35,252.41 L510.39,249.18 L512.43,246.07 L514.48,243.08 L516.52,240.20 L518.56,237.41 L520.61,234.73 L522.65,232.13 L524.69,229.62 L526.74,227.19 L528.78,224.84 L530.82,222.56 L532.87,220.35 L534.91,218.21 L536.95,216.13 L538.99,214.11 L541.04,212.15 L543.08,210.24 L545.12,208.38 L547.17,206.58 L549.21,204.82 L551.25,203.11 L553.30,201.44 L555.34,199.81 L557.38,198.23 L559.42,196.68 L561.47,195.17 L563.51,193.70 L565.55,192.26 L567.60,190.85 L569.64,189.48 L571.68,188.14 L573.73,186.83 L575.77,185.55 L577.81,184.29 L579.85,183.07 L581.90,181.86 L583.94,180.69 L585.98,179.54 L588.03,178.41 L590.07,177.30 L592.11,176.22 L594.15,175.16 L596.20,174.12 L598.24,173.10 L600.28,172.10 L602.33,171.12 L604.37,170.16 L606.41,169.21 L608.46,168.29 L610.50,167.38 L612.54,166.48 L614.59,165.61 L616.63,164.74 L618.67,163.90 L620.71,163.07 L622.76,162.25 L624.80,161.44" fill="none" stroke="#e1171e" stroke-width="1.9" stroke-linejoin="round"/></g>
<circle cx="420.50" cy="258.10" r="3.0" fill="none" stroke="#e1171e" stroke-width="0.55"/><circle cx="422.54" cy="258.10" r="3.0" fill="none" stroke="#e1171e" stroke-width="0.55"/><circle cx="424.59" cy="258.10" r="3.0" fill="none" stroke="#e1171e" stroke-width="0.55"/><circle cx="426.63" cy="258.10" r="3.0" fill="none" stroke="#e1171e" stroke-width="0.55"/><circle cx="428.67" cy="258.10" r="3.0" fill="none" stroke="#e1171e" stroke-width="0.55"/><circle cx="430.71" cy="258.10" r="3.0" fill="none" stroke="#e1171e" stroke-width="0.55"/><circle cx="432.76" cy="258.10" r="3.0" fill="none" stroke="#e1171e" stroke-width="0.55"/><circle cx="434.80" cy="258.10" r="3.0" fill="none" stroke="#e1171e" stroke-width="0.55"/><circle cx="436.84" cy="258.10" r="3.0" fill="none" stroke="#e1171e" stroke-width="0.55"/><circle cx="438.89" cy="258.10" r="3.0" fill="none" stroke="#e1171e" stroke-width="0.55"/><circle cx="440.93" cy="258.10" r="3.0" fill="none" stroke="#e1171e" stroke-width="0.55"/><circle cx="442.97" cy="258.10" r="3.0" fill="none" stroke="#e1171e" stroke-width="0.55"/><circle cx="445.02" cy="258.10" r="3.0" fill="none" stroke="#e1171e" stroke-width="0.55"/><circle cx="447.06" cy="258.10" r="3.0" fill="none" stroke="#e1171e" stroke-width="0.55"/><circle cx="449.10" cy="258.10" r="3.0" fill="none" stroke="#e1171e" stroke-width="0.55"/><circle cx="451.14" cy="258.10" r="3.0" fill="none" stroke="#e1171e" stroke-width="0.55"/><circle cx="453.19" cy="258.10" r="3.0" fill="none" stroke="#e1171e" stroke-width="0.55"/><circle cx="455.23" cy="258.10" r="3.0" fill="none" stroke="#e1171e" stroke-width="0.55"/><circle cx="457.27" cy="258.10" r="3.0" fill="none" stroke="#e1171e" stroke-width="0.55"/><circle cx="459.32" cy="258.10" r="3.0" fill="none" stroke="#e1171e" stroke-width="0.55"/><circle cx="461.36" cy="258.10" r="3.0" fill="none" stroke="#e1171e" stroke-width="0.55"/><circle cx="463.40" cy="258.10" r="3.0" fill="none" stroke="#e1171e" stroke-width="0.55"/><circle cx="465.45" cy="258.10" r="3.0" fill="none" stroke="#e1171e" stroke-width="0.55"/><circle cx="467.49" cy="258.10" r="3.0" fill="none" stroke="#e1171e" stroke-width="0.55"/><circle cx="469.53" cy="258.10" r="3.0" fill="none" stroke="#e1171e" stroke-width="0.55"/><circle cx="471.57" cy="258.10" r="3.0" fill="none" stroke="#e1171e" stroke-width="0.55"/><circle cx="473.62" cy="251.69" r="3.0" fill="none" stroke="#e1171e" stroke-width="0.55"/><circle cx="475.66" cy="245.75" r="3.0" fill="none" stroke="#e1171e" stroke-width="0.55"/><circle cx="477.70" cy="240.23" r="3.0" fill="none" stroke="#e1171e" stroke-width="0.55"/><circle cx="479.75" cy="235.08" r="3.0" fill="none" stroke="#e1171e" stroke-width="0.55"/><circle cx="481.79" cy="230.27" r="3.0" fill="none" stroke="#e1171e" stroke-width="0.55"/><circle cx="483.83" cy="225.75" r="3.0" fill="none" stroke="#e1171e" stroke-width="0.55"/><circle cx="485.88" cy="221.50" r="3.0" fill="none" stroke="#e1171e" stroke-width="0.55"/><circle cx="487.92" cy="217.49" r="3.0" fill="none" stroke="#e1171e" stroke-width="0.55"/><circle cx="489.96" cy="213.70" r="3.0" fill="none" stroke="#e1171e" stroke-width="0.55"/><circle cx="492.00" cy="210.10" r="3.0" fill="none" stroke="#e1171e" stroke-width="0.55"/><circle cx="494.05" cy="206.69" r="3.0" fill="none" stroke="#e1171e" stroke-width="0.55"/><circle cx="496.09" cy="203.44" r="3.0" fill="none" stroke="#e1171e" stroke-width="0.55"/><circle cx="498.13" cy="200.35" r="3.0" fill="none" stroke="#e1171e" stroke-width="0.55"/><circle cx="500.18" cy="197.39" r="3.0" fill="none" stroke="#e1171e" stroke-width="0.55"/><circle cx="502.22" cy="194.57" r="3.0" fill="none" stroke="#e1171e" stroke-width="0.55"/><circle cx="504.26" cy="191.87" r="3.0" fill="none" stroke="#e1171e" stroke-width="0.55"/><circle cx="506.31" cy="189.27" r="3.0" fill="none" stroke="#e1171e" stroke-width="0.55"/><circle cx="508.35" cy="186.79" r="3.0" fill="none" stroke="#e1171e" stroke-width="0.55"/><circle cx="510.39" cy="184.39" r="3.0" fill="none" stroke="#e1171e" stroke-width="0.55"/><circle cx="512.43" cy="182.09" r="3.0" fill="none" stroke="#e1171e" stroke-width="0.55"/><circle cx="514.48" cy="179.88" r="3.0" fill="none" stroke="#e1171e" stroke-width="0.55"/><circle cx="516.52" cy="177.75" r="3.0" fill="none" stroke="#e1171e" stroke-width="0.55"/><circle cx="518.56" cy="175.69" r="3.0" fill="none" stroke="#e1171e" stroke-width="0.55"/><circle cx="520.61" cy="173.70" r="3.0" fill="none" stroke="#e1171e" stroke-width="0.55"/><circle cx="522.65" cy="171.78" r="3.0" fill="none" stroke="#e1171e" stroke-width="0.55"/><circle cx="524.69" cy="169.92" r="3.0" fill="none" stroke="#e1171e" stroke-width="0.55"/><circle cx="526.74" cy="168.12" r="3.0" fill="none" stroke="#e1171e" stroke-width="0.55"/><circle cx="528.78" cy="166.38" r="3.0" fill="none" stroke="#e1171e" stroke-width="0.55"/><circle cx="530.82" cy="164.70" r="3.0" fill="none" stroke="#e1171e" stroke-width="0.55"/><circle cx="532.87" cy="163.06" r="3.0" fill="none" stroke="#e1171e" stroke-width="0.55"/><circle cx="534.91" cy="161.48" r="3.0" fill="none" stroke="#e1171e" stroke-width="0.55"/><circle cx="536.95" cy="159.94" r="3.0" fill="none" stroke="#e1171e" stroke-width="0.55"/><circle cx="538.99" cy="158.44" r="3.0" fill="none" stroke="#e1171e" stroke-width="0.55"/><circle cx="541.04" cy="156.99" r="3.0" fill="none" stroke="#e1171e" stroke-width="0.55"/><circle cx="543.08" cy="155.58" r="3.0" fill="none" stroke="#e1171e" stroke-width="0.55"/><circle cx="545.12" cy="154.20" r="3.0" fill="none" stroke="#e1171e" stroke-width="0.55"/><circle cx="547.17" cy="152.87" r="3.0" fill="none" stroke="#e1171e" stroke-width="0.55"/><circle cx="549.21" cy="151.57" r="3.0" fill="none" stroke="#e1171e" stroke-width="0.55"/><circle cx="551.25" cy="150.30" r="3.0" fill="none" stroke="#e1171e" stroke-width="0.55"/><circle cx="553.30" cy="149.06" r="3.0" fill="none" stroke="#e1171e" stroke-width="0.55"/><circle cx="555.34" cy="147.86" r="3.0" fill="none" stroke="#e1171e" stroke-width="0.55"/><circle cx="557.38" cy="146.69" r="3.0" fill="none" stroke="#e1171e" stroke-width="0.55"/><circle cx="559.42" cy="145.54" r="3.0" fill="none" stroke="#e1171e" stroke-width="0.55"/><circle cx="561.47" cy="144.43" r="3.0" fill="none" stroke="#e1171e" stroke-width="0.55"/><circle cx="563.51" cy="143.34" r="3.0" fill="none" stroke="#e1171e" stroke-width="0.55"/><circle cx="565.55" cy="142.27" r="3.0" fill="none" stroke="#e1171e" stroke-width="0.55"/><circle cx="567.60" cy="141.23" r="3.0" fill="none" stroke="#e1171e" stroke-width="0.55"/><circle cx="569.64" cy="140.22" r="3.0" fill="none" stroke="#e1171e" stroke-width="0.55"/><circle cx="571.68" cy="139.22" r="3.0" fill="none" stroke="#e1171e" stroke-width="0.55"/><circle cx="573.73" cy="138.25" r="3.0" fill="none" stroke="#e1171e" stroke-width="0.55"/><circle cx="575.77" cy="137.30" r="3.0" fill="none" stroke="#e1171e" stroke-width="0.55"/><circle cx="577.81" cy="136.38" r="3.0" fill="none" stroke="#e1171e" stroke-width="0.55"/><circle cx="579.85" cy="135.47" r="3.0" fill="none" stroke="#e1171e" stroke-width="0.55"/><circle cx="581.90" cy="134.58" r="3.0" fill="none" stroke="#e1171e" stroke-width="0.55"/><circle cx="583.94" cy="133.71" r="3.0" fill="none" stroke="#e1171e" stroke-width="0.55"/><circle cx="585.98" cy="132.86" r="3.0" fill="none" stroke="#e1171e" stroke-width="0.55"/><circle cx="588.03" cy="132.02" r="3.0" fill="none" stroke="#e1171e" stroke-width="0.55"/><circle cx="590.07" cy="131.21" r="3.0" fill="none" stroke="#e1171e" stroke-width="0.55"/><circle cx="592.11" cy="130.40" r="3.0" fill="none" stroke="#e1171e" stroke-width="0.55"/><circle cx="594.15" cy="129.62" r="3.0" fill="none" stroke="#e1171e" stroke-width="0.55"/><circle cx="596.20" cy="128.85" r="3.0" fill="none" stroke="#e1171e" stroke-width="0.55"/><circle cx="598.24" cy="128.10" r="3.0" fill="none" stroke="#e1171e" stroke-width="0.55"/><circle cx="600.28" cy="127.36" r="3.0" fill="none" stroke="#e1171e" stroke-width="0.55"/><circle cx="602.33" cy="126.63" r="3.0" fill="none" stroke="#e1171e" stroke-width="0.55"/><circle cx="604.37" cy="125.92" r="3.0" fill="none" stroke="#e1171e" stroke-width="0.55"/><circle cx="606.41" cy="125.22" r="3.0" fill="none" stroke="#e1171e" stroke-width="0.55"/><circle cx="608.46" cy="124.53" r="3.0" fill="none" stroke="#e1171e" stroke-width="0.55"/><circle cx="610.50" cy="123.86" r="3.0" fill="none" stroke="#e1171e" stroke-width="0.55"/><circle cx="612.54" cy="123.20" r="3.0" fill="none" stroke="#e1171e" stroke-width="0.55"/><circle cx="614.59" cy="122.55" r="3.0" fill="none" stroke="#e1171e" stroke-width="0.55"/><circle cx="616.63" cy="121.91" r="3.0" fill="none" stroke="#e1171e" stroke-width="0.55"/><circle cx="618.67" cy="121.28" r="3.0" fill="none" stroke="#e1171e" stroke-width="0.55"/><circle cx="620.71" cy="120.67" r="3.0" fill="none" stroke="#e1171e" stroke-width="0.55"/><circle cx="622.76" cy="120.06" r="3.0" fill="none" stroke="#e1171e" stroke-width="0.55"/><circle cx="624.80" cy="119.47" r="3.0" fill="none" stroke="#e1171e" stroke-width="0.55"/>
<g transform="scale(1,0.740)"><path d="M420.50,348.78 L422.54,348.78 L424.59,348.78 L426.63,348.78 L428.67,348.78 L430.71,348.78 L432.76,348.78 L434.80,348.78 L436.84,348.78 L438.89,348.78 L440.93,348.78 L442.97,348.78 L445.02,330.01 L447.06,311.96 L449.10,296.48 L451.14,283.07 L453.19,271.34 L455.23,260.98 L457.27,251.77 L459.32,243.52 L461.36,236.10 L463.40,229.37 L465.45,223.24 L467.49,217.63 L469.53,212.48 L471.57,207.72 L473.62,203.32 L475.66,199.23 L477.70,195.42 L479.75,191.85 L481.79,188.51 L483.83,185.37 L485.88,182.41 L487.92,179.62 L489.96,176.98 L492.00,174.48 L494.05,172.11 L496.09,169.85 L498.13,167.70 L500.18,165.65 L502.22,163.70 L504.26,161.82 L506.31,160.03 L508.35,158.31 L510.39,156.67 L512.43,155.08 L514.48,153.56 L516.52,152.10 L518.56,150.69 L520.61,149.33 L522.65,148.01 L524.69,146.75 L526.74,145.52 L528.78,144.34 L530.82,143.19 L532.87,142.09 L534.91,141.01 L536.95,139.97 L538.99,138.96 L541.04,137.98 L543.08,137.03 L545.12,136.10 L547.17,135.20 L549.21,134.33 L551.25,133.48 L553.30,132.65 L555.34,131.85 L557.38,131.06 L559.42,130.30 L561.47,129.55 L563.51,128.83 L565.55,128.12 L567.60,127.42 L569.64,126.75 L571.68,126.09 L573.73,125.44 L575.77,124.81 L577.81,124.20 L579.85,123.60 L581.90,123.01 L583.94,122.43 L585.98,121.87 L588.03,121.31 L590.07,120.77 L592.11,120.25 L594.15,119.73 L596.20,119.22 L598.24,118.72 L600.28,118.23 L602.33,117.76 L604.37,117.29 L606.41,116.83 L608.46,116.37 L610.50,115.93 L612.54,115.50 L614.59,115.07 L616.63,114.65 L618.67,114.24 L620.71,113.84 L622.76,113.44 L624.80,113.05" fill="none" stroke="#2b9aab" stroke-width="1.6" stroke-linejoin="round"/></g>
<path d="M420.50,255.20 l3.35,2.9 l-3.35,2.9 l-3.35,-2.9 Z" fill="#2b9aab"/><path d="M422.54,255.20 l3.35,2.9 l-3.35,2.9 l-3.35,-2.9 Z" fill="#2b9aab"/><path d="M424.59,255.20 l3.35,2.9 l-3.35,2.9 l-3.35,-2.9 Z" fill="#2b9aab"/><path d="M426.63,255.20 l3.35,2.9 l-3.35,2.9 l-3.35,-2.9 Z" fill="#2b9aab"/><path d="M428.67,255.20 l3.35,2.9 l-3.35,2.9 l-3.35,-2.9 Z" fill="#2b9aab"/><path d="M430.71,255.20 l3.35,2.9 l-3.35,2.9 l-3.35,-2.9 Z" fill="#2b9aab"/><path d="M432.76,255.20 l3.35,2.9 l-3.35,2.9 l-3.35,-2.9 Z" fill="#2b9aab"/><path d="M434.80,255.20 l3.35,2.9 l-3.35,2.9 l-3.35,-2.9 Z" fill="#2b9aab"/><path d="M436.84,255.20 l3.35,2.9 l-3.35,2.9 l-3.35,-2.9 Z" fill="#2b9aab"/><path d="M438.89,255.20 l3.35,2.9 l-3.35,2.9 l-3.35,-2.9 Z" fill="#2b9aab"/><path d="M440.93,255.20 l3.35,2.9 l-3.35,2.9 l-3.35,-2.9 Z" fill="#2b9aab"/><path d="M442.97,255.20 l3.35,2.9 l-3.35,2.9 l-3.35,-2.9 Z" fill="#2b9aab"/><path d="M445.02,241.31 l3.35,2.9 l-3.35,2.9 l-3.35,-2.9 Z" fill="#2b9aab"/><path d="M447.06,227.95 l3.35,2.9 l-3.35,2.9 l-3.35,-2.9 Z" fill="#2b9aab"/><path d="M449.10,216.50 l3.35,2.9 l-3.35,2.9 l-3.35,-2.9 Z" fill="#2b9aab"/><path d="M451.14,206.57 l3.35,2.9 l-3.35,2.9 l-3.35,-2.9 Z" fill="#2b9aab"/><path d="M453.19,197.89 l3.35,2.9 l-3.35,2.9 l-3.35,-2.9 Z" fill="#2b9aab"/><path d="M455.23,190.22 l3.35,2.9 l-3.35,2.9 l-3.35,-2.9 Z" fill="#2b9aab"/><path d="M457.27,183.41 l3.35,2.9 l-3.35,2.9 l-3.35,-2.9 Z" fill="#2b9aab"/><path d="M459.32,177.31 l3.35,2.9 l-3.35,2.9 l-3.35,-2.9 Z" fill="#2b9aab"/><path d="M461.36,171.81 l3.35,2.9 l-3.35,2.9 l-3.35,-2.9 Z" fill="#2b9aab"/><path d="M463.40,166.83 l3.35,2.9 l-3.35,2.9 l-3.35,-2.9 Z" fill="#2b9aab"/><path d="M465.45,162.29 l3.35,2.9 l-3.35,2.9 l-3.35,-2.9 Z" fill="#2b9aab"/><path d="M467.49,158.15 l3.35,2.9 l-3.35,2.9 l-3.35,-2.9 Z" fill="#2b9aab"/><path d="M469.53,154.33 l3.35,2.9 l-3.35,2.9 l-3.35,-2.9 Z" fill="#2b9aab"/><path d="M471.57,150.81 l3.35,2.9 l-3.35,2.9 l-3.35,-2.9 Z" fill="#2b9aab"/><path d="M473.62,147.56 l3.35,2.9 l-3.35,2.9 l-3.35,-2.9 Z" fill="#2b9aab"/><path d="M475.66,144.53 l3.35,2.9 l-3.35,2.9 l-3.35,-2.9 Z" fill="#2b9aab"/><path d="M477.70,141.71 l3.35,2.9 l-3.35,2.9 l-3.35,-2.9 Z" fill="#2b9aab"/><path d="M479.75,139.07 l3.35,2.9 l-3.35,2.9 l-3.35,-2.9 Z" fill="#2b9aab"/><path d="M481.79,136.60 l3.35,2.9 l-3.35,2.9 l-3.35,-2.9 Z" fill="#2b9aab"/><path d="M483.83,134.27 l3.35,2.9 l-3.35,2.9 l-3.35,-2.9 Z" fill="#2b9aab"/><path d="M485.88,132.09 l3.35,2.9 l-3.35,2.9 l-3.35,-2.9 Z" fill="#2b9aab"/><path d="M487.92,130.02 l3.35,2.9 l-3.35,2.9 l-3.35,-2.9 Z" fill="#2b9aab"/><path d="M489.96,128.07 l3.35,2.9 l-3.35,2.9 l-3.35,-2.9 Z" fill="#2b9aab"/><path d="M492.00,126.22 l3.35,2.9 l-3.35,2.9 l-3.35,-2.9 Z" fill="#2b9aab"/><path d="M494.05,124.46 l3.35,2.9 l-3.35,2.9 l-3.35,-2.9 Z" fill="#2b9aab"/><path d="M496.09,122.79 l3.35,2.9 l-3.35,2.9 l-3.35,-2.9 Z" fill="#2b9aab"/><path d="M498.13,121.20 l3.35,2.9 l-3.35,2.9 l-3.35,-2.9 Z" fill="#2b9aab"/><path d="M500.18,119.68 l3.35,2.9 l-3.35,2.9 l-3.35,-2.9 Z" fill="#2b9aab"/><path d="M502.22,118.23 l3.35,2.9 l-3.35,2.9 l-3.35,-2.9 Z" fill="#2b9aab"/><path d="M504.26,116.85 l3.35,2.9 l-3.35,2.9 l-3.35,-2.9 Z" fill="#2b9aab"/><path d="M506.31,115.52 l3.35,2.9 l-3.35,2.9 l-3.35,-2.9 Z" fill="#2b9aab"/><path d="M508.35,114.25 l3.35,2.9 l-3.35,2.9 l-3.35,-2.9 Z" fill="#2b9aab"/><path d="M510.39,113.03 l3.35,2.9 l-3.35,2.9 l-3.35,-2.9 Z" fill="#2b9aab"/><path d="M512.43,111.86 l3.35,2.9 l-3.35,2.9 l-3.35,-2.9 Z" fill="#2b9aab"/><path d="M514.48,110.74 l3.35,2.9 l-3.35,2.9 l-3.35,-2.9 Z" fill="#2b9aab"/><path d="M516.52,109.65 l3.35,2.9 l-3.35,2.9 l-3.35,-2.9 Z" fill="#2b9aab"/><path d="M518.56,108.61 l3.35,2.9 l-3.35,2.9 l-3.35,-2.9 Z" fill="#2b9aab"/><path d="M520.61,107.60 l3.35,2.9 l-3.35,2.9 l-3.35,-2.9 Z" fill="#2b9aab"/><path d="M522.65,106.63 l3.35,2.9 l-3.35,2.9 l-3.35,-2.9 Z" fill="#2b9aab"/><path d="M524.69,105.69 l3.35,2.9 l-3.35,2.9 l-3.35,-2.9 Z" fill="#2b9aab"/><path d="M526.74,104.79 l3.35,2.9 l-3.35,2.9 l-3.35,-2.9 Z" fill="#2b9aab"/><path d="M528.78,103.91 l3.35,2.9 l-3.35,2.9 l-3.35,-2.9 Z" fill="#2b9aab"/><path d="M530.82,103.06 l3.35,2.9 l-3.35,2.9 l-3.35,-2.9 Z" fill="#2b9aab"/><path d="M532.87,102.24 l3.35,2.9 l-3.35,2.9 l-3.35,-2.9 Z" fill="#2b9aab"/><path d="M534.91,101.45 l3.35,2.9 l-3.35,2.9 l-3.35,-2.9 Z" fill="#2b9aab"/><path d="M536.95,100.68 l3.35,2.9 l-3.35,2.9 l-3.35,-2.9 Z" fill="#2b9aab"/><path d="M538.99,99.93 l3.35,2.9 l-3.35,2.9 l-3.35,-2.9 Z" fill="#2b9aab"/><path d="M541.04,99.21 l3.35,2.9 l-3.35,2.9 l-3.35,-2.9 Z" fill="#2b9aab"/><path d="M543.08,98.50 l3.35,2.9 l-3.35,2.9 l-3.35,-2.9 Z" fill="#2b9aab"/><path d="M545.12,97.82 l3.35,2.9 l-3.35,2.9 l-3.35,-2.9 Z" fill="#2b9aab"/><path d="M547.17,97.15 l3.35,2.9 l-3.35,2.9 l-3.35,-2.9 Z" fill="#2b9aab"/><path d="M549.21,96.50 l3.35,2.9 l-3.35,2.9 l-3.35,-2.9 Z" fill="#2b9aab"/><path d="M551.25,95.88 l3.35,2.9 l-3.35,2.9 l-3.35,-2.9 Z" fill="#2b9aab"/><path d="M553.30,95.26 l3.35,2.9 l-3.35,2.9 l-3.35,-2.9 Z" fill="#2b9aab"/><path d="M555.34,94.67 l3.35,2.9 l-3.35,2.9 l-3.35,-2.9 Z" fill="#2b9aab"/><path d="M557.38,94.09 l3.35,2.9 l-3.35,2.9 l-3.35,-2.9 Z" fill="#2b9aab"/><path d="M559.42,93.52 l3.35,2.9 l-3.35,2.9 l-3.35,-2.9 Z" fill="#2b9aab"/><path d="M561.47,92.97 l3.35,2.9 l-3.35,2.9 l-3.35,-2.9 Z" fill="#2b9aab"/><path d="M563.51,92.43 l3.35,2.9 l-3.35,2.9 l-3.35,-2.9 Z" fill="#2b9aab"/><path d="M565.55,91.91 l3.35,2.9 l-3.35,2.9 l-3.35,-2.9 Z" fill="#2b9aab"/><path d="M567.60,91.39 l3.35,2.9 l-3.35,2.9 l-3.35,-2.9 Z" fill="#2b9aab"/><path d="M569.64,90.89 l3.35,2.9 l-3.35,2.9 l-3.35,-2.9 Z" fill="#2b9aab"/><path d="M571.68,90.41 l3.35,2.9 l-3.35,2.9 l-3.35,-2.9 Z" fill="#2b9aab"/><path d="M573.73,89.93 l3.35,2.9 l-3.35,2.9 l-3.35,-2.9 Z" fill="#2b9aab"/><path d="M575.77,89.46 l3.35,2.9 l-3.35,2.9 l-3.35,-2.9 Z" fill="#2b9aab"/><path d="M577.81,89.01 l3.35,2.9 l-3.35,2.9 l-3.35,-2.9 Z" fill="#2b9aab"/><path d="M579.85,88.56 l3.35,2.9 l-3.35,2.9 l-3.35,-2.9 Z" fill="#2b9aab"/><path d="M581.90,88.12 l3.35,2.9 l-3.35,2.9 l-3.35,-2.9 Z" fill="#2b9aab"/><path d="M583.94,87.70 l3.35,2.9 l-3.35,2.9 l-3.35,-2.9 Z" fill="#2b9aab"/><path d="M585.98,87.28 l3.35,2.9 l-3.35,2.9 l-3.35,-2.9 Z" fill="#2b9aab"/><path d="M588.03,86.87 l3.35,2.9 l-3.35,2.9 l-3.35,-2.9 Z" fill="#2b9aab"/><path d="M590.07,86.47 l3.35,2.9 l-3.35,2.9 l-3.35,-2.9 Z" fill="#2b9aab"/><path d="M592.11,86.08 l3.35,2.9 l-3.35,2.9 l-3.35,-2.9 Z" fill="#2b9aab"/><path d="M594.15,85.70 l3.35,2.9 l-3.35,2.9 l-3.35,-2.9 Z" fill="#2b9aab"/><path d="M596.20,85.32 l3.35,2.9 l-3.35,2.9 l-3.35,-2.9 Z" fill="#2b9aab"/><path d="M598.24,84.95 l3.35,2.9 l-3.35,2.9 l-3.35,-2.9 Z" fill="#2b9aab"/><path d="M600.28,84.59 l3.35,2.9 l-3.35,2.9 l-3.35,-2.9 Z" fill="#2b9aab"/><path d="M602.33,84.24 l3.35,2.9 l-3.35,2.9 l-3.35,-2.9 Z" fill="#2b9aab"/><path d="M604.37,83.89 l3.35,2.9 l-3.35,2.9 l-3.35,-2.9 Z" fill="#2b9aab"/><path d="M606.41,83.55 l3.35,2.9 l-3.35,2.9 l-3.35,-2.9 Z" fill="#2b9aab"/><path d="M608.46,83.22 l3.35,2.9 l-3.35,2.9 l-3.35,-2.9 Z" fill="#2b9aab"/><path d="M610.50,82.89 l3.35,2.9 l-3.35,2.9 l-3.35,-2.9 Z" fill="#2b9aab"/><path d="M612.54,82.57 l3.35,2.9 l-3.35,2.9 l-3.35,-2.9 Z" fill="#2b9aab"/><path d="M614.59,82.25 l3.35,2.9 l-3.35,2.9 l-3.35,-2.9 Z" fill="#2b9aab"/><path d="M616.63,81.94 l3.35,2.9 l-3.35,2.9 l-3.35,-2.9 Z" fill="#2b9aab"/><path d="M618.67,81.64 l3.35,2.9 l-3.35,2.9 l-3.35,-2.9 Z" fill="#2b9aab"/><path d="M620.71,81.34 l3.35,2.9 l-3.35,2.9 l-3.35,-2.9 Z" fill="#2b9aab"/><path d="M622.76,81.04 l3.35,2.9 l-3.35,2.9 l-3.35,-2.9 Z" fill="#2b9aab"/><path d="M624.80,80.76 l3.35,2.9 l-3.35,2.9 l-3.35,-2.9 Z" fill="#2b9aab"/>
<g transform="scale(1,0.740)"><path d="M430.71,348.78 L432.76,315.93 L434.80,282.40 L436.84,257.26 L438.89,237.70 L440.93,222.05 L442.97,209.25 L445.02,198.58 L447.06,189.56 L449.10,181.82 L451.14,175.11 L453.19,169.23 L455.23,164.04 L457.27,159.42 L459.32,155.29 L461.36,151.56 L463.40,148.17 L465.45,145.09 L467.49,142.27 L469.53,139.67 L471.57,137.28 L473.62,135.06 L475.66,133.00 L477.70,131.07 L479.75,129.28 L481.79,127.59 L483.83,126.01 L485.88,124.52 L487.92,123.11 L489.96,121.78 L492.00,120.52 L494.05,119.33 L496.09,118.19 L498.13,117.11 L500.18,116.08 L502.22,115.09 L504.26,114.15 L506.31,113.25 L508.35,112.39 L510.39,111.56 L512.43,110.77 L514.48,110.00 L516.52,109.27 L518.56,108.56 L520.61,107.88 L522.65,107.23 L524.69,106.59 L526.74,105.98 L528.78,105.39 L530.82,104.82 L532.87,104.26 L534.91,103.73 L536.95,103.21 L538.99,102.70 L541.04,102.21 L543.08,101.74 L545.12,101.28 L547.17,100.83 L549.21,100.39 L551.25,99.97 L553.30,99.56 L555.34,99.16 L557.38,98.77 L559.42,98.39 L561.47,98.02 L563.51,97.66 L565.55,97.30 L567.60,96.96 L569.64,96.62 L571.68,96.30 L573.73,95.98 L575.77,95.66 L577.81,95.36 L579.85,95.06 L581.90,94.77 L583.94,94.48 L585.98,94.20 L588.03,93.93 L590.07,93.66 L592.11,93.40 L594.15,93.14 L596.20,92.89 L598.24,92.65 L600.28,92.40 L602.33,92.17 L604.37,91.94 L606.41,91.71 L608.46,91.49 L610.50,91.27 L612.54,91.05 L614.59,90.84 L616.63,90.63 L618.67,90.43 L620.71,90.23 L622.76,90.03 L624.80,89.84" fill="none" stroke="#000" stroke-width="2.1" stroke-linejoin="round"/></g>
<path d="M420.50,255.75 l3.1,2.35 l-3.1,2.35 l-3.1,-2.35 Z" fill="none" stroke="#111" stroke-width="0.8"/><path d="M422.54,255.75 l3.1,2.35 l-3.1,2.35 l-3.1,-2.35 Z" fill="none" stroke="#111" stroke-width="0.8"/><path d="M424.59,255.75 l3.1,2.35 l-3.1,2.35 l-3.1,-2.35 Z" fill="none" stroke="#111" stroke-width="0.8"/><path d="M426.63,255.75 l3.1,2.35 l-3.1,2.35 l-3.1,-2.35 Z" fill="none" stroke="#111" stroke-width="0.8"/><path d="M428.67,255.75 l3.1,2.35 l-3.1,2.35 l-3.1,-2.35 Z" fill="none" stroke="#111" stroke-width="0.8"/><path d="M430.71,255.75 l3.1,2.35 l-3.1,2.35 l-3.1,-2.35 Z" fill="none" stroke="#111" stroke-width="0.8"/><path d="M432.76,231.44 l3.1,2.35 l-3.1,2.35 l-3.1,-2.35 Z" fill="none" stroke="#111" stroke-width="0.8"/><path d="M434.80,206.63 l3.1,2.35 l-3.1,2.35 l-3.1,-2.35 Z" fill="none" stroke="#111" stroke-width="0.8"/><path d="M436.84,188.02 l3.1,2.35 l-3.1,2.35 l-3.1,-2.35 Z" fill="none" stroke="#111" stroke-width="0.8"/><path d="M438.89,173.55 l3.1,2.35 l-3.1,2.35 l-3.1,-2.35 Z" fill="none" stroke="#111" stroke-width="0.8"/><path d="M440.93,161.97 l3.1,2.35 l-3.1,2.35 l-3.1,-2.35 Z" fill="none" stroke="#111" stroke-width="0.8"/><path d="M442.97,152.50 l3.1,2.35 l-3.1,2.35 l-3.1,-2.35 Z" fill="none" stroke="#111" stroke-width="0.8"/><path d="M445.02,144.60 l3.1,2.35 l-3.1,2.35 l-3.1,-2.35 Z" fill="none" stroke="#111" stroke-width="0.8"/><path d="M447.06,137.92 l3.1,2.35 l-3.1,2.35 l-3.1,-2.35 Z" fill="none" stroke="#111" stroke-width="0.8"/><path d="M449.10,132.19 l3.1,2.35 l-3.1,2.35 l-3.1,-2.35 Z" fill="none" stroke="#111" stroke-width="0.8"/><path d="M451.14,127.23 l3.1,2.35 l-3.1,2.35 l-3.1,-2.35 Z" fill="none" stroke="#111" stroke-width="0.8"/><path d="M453.19,122.88 l3.1,2.35 l-3.1,2.35 l-3.1,-2.35 Z" fill="none" stroke="#111" stroke-width="0.8"/><path d="M455.23,119.04 l3.1,2.35 l-3.1,2.35 l-3.1,-2.35 Z" fill="none" stroke="#111" stroke-width="0.8"/><path d="M457.27,115.62 l3.1,2.35 l-3.1,2.35 l-3.1,-2.35 Z" fill="none" stroke="#111" stroke-width="0.8"/><path d="M459.32,112.56 l3.1,2.35 l-3.1,2.35 l-3.1,-2.35 Z" fill="none" stroke="#111" stroke-width="0.8"/><path d="M461.36,109.80 l3.1,2.35 l-3.1,2.35 l-3.1,-2.35 Z" fill="none" stroke="#111" stroke-width="0.8"/><path d="M463.40,107.30 l3.1,2.35 l-3.1,2.35 l-3.1,-2.35 Z" fill="none" stroke="#111" stroke-width="0.8"/><path d="M465.45,105.02 l3.1,2.35 l-3.1,2.35 l-3.1,-2.35 Z" fill="none" stroke="#111" stroke-width="0.8"/><path d="M467.49,102.93 l3.1,2.35 l-3.1,2.35 l-3.1,-2.35 Z" fill="none" stroke="#111" stroke-width="0.8"/><path d="M469.53,101.01 l3.1,2.35 l-3.1,2.35 l-3.1,-2.35 Z" fill="none" stroke="#111" stroke-width="0.8"/><path d="M471.57,99.24 l3.1,2.35 l-3.1,2.35 l-3.1,-2.35 Z" fill="none" stroke="#111" stroke-width="0.8"/><path d="M473.62,97.59 l3.1,2.35 l-3.1,2.35 l-3.1,-2.35 Z" fill="none" stroke="#111" stroke-width="0.8"/><path d="M475.66,96.07 l3.1,2.35 l-3.1,2.35 l-3.1,-2.35 Z" fill="none" stroke="#111" stroke-width="0.8"/><path d="M477.70,94.64 l3.1,2.35 l-3.1,2.35 l-3.1,-2.35 Z" fill="none" stroke="#111" stroke-width="0.8"/><path d="M479.75,93.31 l3.1,2.35 l-3.1,2.35 l-3.1,-2.35 Z" fill="none" stroke="#111" stroke-width="0.8"/><path d="M481.79,92.07 l3.1,2.35 l-3.1,2.35 l-3.1,-2.35 Z" fill="none" stroke="#111" stroke-width="0.8"/><path d="M483.83,90.90 l3.1,2.35 l-3.1,2.35 l-3.1,-2.35 Z" fill="none" stroke="#111" stroke-width="0.8"/><path d="M485.88,89.79 l3.1,2.35 l-3.1,2.35 l-3.1,-2.35 Z" fill="none" stroke="#111" stroke-width="0.8"/><path d="M487.92,88.75 l3.1,2.35 l-3.1,2.35 l-3.1,-2.35 Z" fill="none" stroke="#111" stroke-width="0.8"/><path d="M489.96,87.77 l3.1,2.35 l-3.1,2.35 l-3.1,-2.35 Z" fill="none" stroke="#111" stroke-width="0.8"/><path d="M492.00,86.84 l3.1,2.35 l-3.1,2.35 l-3.1,-2.35 Z" fill="none" stroke="#111" stroke-width="0.8"/><path d="M494.05,85.95 l3.1,2.35 l-3.1,2.35 l-3.1,-2.35 Z" fill="none" stroke="#111" stroke-width="0.8"/><path d="M496.09,85.11 l3.1,2.35 l-3.1,2.35 l-3.1,-2.35 Z" fill="none" stroke="#111" stroke-width="0.8"/><path d="M498.13,84.31 l3.1,2.35 l-3.1,2.35 l-3.1,-2.35 Z" fill="none" stroke="#111" stroke-width="0.8"/><path d="M500.18,83.55 l3.1,2.35 l-3.1,2.35 l-3.1,-2.35 Z" fill="none" stroke="#111" stroke-width="0.8"/><path d="M502.22,82.82 l3.1,2.35 l-3.1,2.35 l-3.1,-2.35 Z" fill="none" stroke="#111" stroke-width="0.8"/><path d="M504.26,82.12 l3.1,2.35 l-3.1,2.35 l-3.1,-2.35 Z" fill="none" stroke="#111" stroke-width="0.8"/><path d="M506.31,81.46 l3.1,2.35 l-3.1,2.35 l-3.1,-2.35 Z" fill="none" stroke="#111" stroke-width="0.8"/><path d="M508.35,80.82 l3.1,2.35 l-3.1,2.35 l-3.1,-2.35 Z" fill="none" stroke="#111" stroke-width="0.8"/><path d="M510.39,80.21 l3.1,2.35 l-3.1,2.35 l-3.1,-2.35 Z" fill="none" stroke="#111" stroke-width="0.8"/><path d="M512.43,79.62 l3.1,2.35 l-3.1,2.35 l-3.1,-2.35 Z" fill="none" stroke="#111" stroke-width="0.8"/><path d="M514.48,79.05 l3.1,2.35 l-3.1,2.35 l-3.1,-2.35 Z" fill="none" stroke="#111" stroke-width="0.8"/><path d="M516.52,78.51 l3.1,2.35 l-3.1,2.35 l-3.1,-2.35 Z" fill="none" stroke="#111" stroke-width="0.8"/><path d="M518.56,77.99 l3.1,2.35 l-3.1,2.35 l-3.1,-2.35 Z" fill="none" stroke="#111" stroke-width="0.8"/><path d="M520.61,77.48 l3.1,2.35 l-3.1,2.35 l-3.1,-2.35 Z" fill="none" stroke="#111" stroke-width="0.8"/><path d="M522.65,77.00 l3.1,2.35 l-3.1,2.35 l-3.1,-2.35 Z" fill="none" stroke="#111" stroke-width="0.8"/><path d="M524.69,76.53 l3.1,2.35 l-3.1,2.35 l-3.1,-2.35 Z" fill="none" stroke="#111" stroke-width="0.8"/><path d="M526.74,76.07 l3.1,2.35 l-3.1,2.35 l-3.1,-2.35 Z" fill="none" stroke="#111" stroke-width="0.8"/><path d="M528.78,75.64 l3.1,2.35 l-3.1,2.35 l-3.1,-2.35 Z" fill="none" stroke="#111" stroke-width="0.8"/><path d="M530.82,75.21 l3.1,2.35 l-3.1,2.35 l-3.1,-2.35 Z" fill="none" stroke="#111" stroke-width="0.8"/><path d="M532.87,74.80 l3.1,2.35 l-3.1,2.35 l-3.1,-2.35 Z" fill="none" stroke="#111" stroke-width="0.8"/><path d="M534.91,74.41 l3.1,2.35 l-3.1,2.35 l-3.1,-2.35 Z" fill="none" stroke="#111" stroke-width="0.8"/><path d="M536.95,74.02 l3.1,2.35 l-3.1,2.35 l-3.1,-2.35 Z" fill="none" stroke="#111" stroke-width="0.8"/><path d="M538.99,73.65 l3.1,2.35 l-3.1,2.35 l-3.1,-2.35 Z" fill="none" stroke="#111" stroke-width="0.8"/><path d="M541.04,73.29 l3.1,2.35 l-3.1,2.35 l-3.1,-2.35 Z" fill="none" stroke="#111" stroke-width="0.8"/><path d="M543.08,72.94 l3.1,2.35 l-3.1,2.35 l-3.1,-2.35 Z" fill="none" stroke="#111" stroke-width="0.8"/><path d="M545.12,72.60 l3.1,2.35 l-3.1,2.35 l-3.1,-2.35 Z" fill="none" stroke="#111" stroke-width="0.8"/><path d="M547.17,72.26 l3.1,2.35 l-3.1,2.35 l-3.1,-2.35 Z" fill="none" stroke="#111" stroke-width="0.8"/><path d="M549.21,71.94 l3.1,2.35 l-3.1,2.35 l-3.1,-2.35 Z" fill="none" stroke="#111" stroke-width="0.8"/><path d="M551.25,71.63 l3.1,2.35 l-3.1,2.35 l-3.1,-2.35 Z" fill="none" stroke="#111" stroke-width="0.8"/><path d="M553.30,71.32 l3.1,2.35 l-3.1,2.35 l-3.1,-2.35 Z" fill="none" stroke="#111" stroke-width="0.8"/><path d="M555.34,71.03 l3.1,2.35 l-3.1,2.35 l-3.1,-2.35 Z" fill="none" stroke="#111" stroke-width="0.8"/><path d="M557.38,70.74 l3.1,2.35 l-3.1,2.35 l-3.1,-2.35 Z" fill="none" stroke="#111" stroke-width="0.8"/><path d="M559.42,70.46 l3.1,2.35 l-3.1,2.35 l-3.1,-2.35 Z" fill="none" stroke="#111" stroke-width="0.8"/><path d="M561.47,70.18 l3.1,2.35 l-3.1,2.35 l-3.1,-2.35 Z" fill="none" stroke="#111" stroke-width="0.8"/><path d="M563.51,69.92 l3.1,2.35 l-3.1,2.35 l-3.1,-2.35 Z" fill="none" stroke="#111" stroke-width="0.8"/><path d="M565.55,69.66 l3.1,2.35 l-3.1,2.35 l-3.1,-2.35 Z" fill="none" stroke="#111" stroke-width="0.8"/><path d="M567.60,69.40 l3.1,2.35 l-3.1,2.35 l-3.1,-2.35 Z" fill="none" stroke="#111" stroke-width="0.8"/><path d="M569.64,69.15 l3.1,2.35 l-3.1,2.35 l-3.1,-2.35 Z" fill="none" stroke="#111" stroke-width="0.8"/><path d="M571.68,68.91 l3.1,2.35 l-3.1,2.35 l-3.1,-2.35 Z" fill="none" stroke="#111" stroke-width="0.8"/><path d="M573.73,68.67 l3.1,2.35 l-3.1,2.35 l-3.1,-2.35 Z" fill="none" stroke="#111" stroke-width="0.8"/><path d="M575.77,68.44 l3.1,2.35 l-3.1,2.35 l-3.1,-2.35 Z" fill="none" stroke="#111" stroke-width="0.8"/><path d="M577.81,68.22 l3.1,2.35 l-3.1,2.35 l-3.1,-2.35 Z" fill="none" stroke="#111" stroke-width="0.8"/><path d="M579.85,67.99 l3.1,2.35 l-3.1,2.35 l-3.1,-2.35 Z" fill="none" stroke="#111" stroke-width="0.8"/><path d="M581.90,67.78 l3.1,2.35 l-3.1,2.35 l-3.1,-2.35 Z" fill="none" stroke="#111" stroke-width="0.8"/><path d="M583.94,67.57 l3.1,2.35 l-3.1,2.35 l-3.1,-2.35 Z" fill="none" stroke="#111" stroke-width="0.8"/><path d="M585.98,67.36 l3.1,2.35 l-3.1,2.35 l-3.1,-2.35 Z" fill="none" stroke="#111" stroke-width="0.8"/><path d="M588.03,67.16 l3.1,2.35 l-3.1,2.35 l-3.1,-2.35 Z" fill="none" stroke="#111" stroke-width="0.8"/><path d="M590.07,66.96 l3.1,2.35 l-3.1,2.35 l-3.1,-2.35 Z" fill="none" stroke="#111" stroke-width="0.8"/><path d="M592.11,66.77 l3.1,2.35 l-3.1,2.35 l-3.1,-2.35 Z" fill="none" stroke="#111" stroke-width="0.8"/><path d="M594.15,66.58 l3.1,2.35 l-3.1,2.35 l-3.1,-2.35 Z" fill="none" stroke="#111" stroke-width="0.8"/><path d="M596.20,66.39 l3.1,2.35 l-3.1,2.35 l-3.1,-2.35 Z" fill="none" stroke="#111" stroke-width="0.8"/><path d="M598.24,66.21 l3.1,2.35 l-3.1,2.35 l-3.1,-2.35 Z" fill="none" stroke="#111" stroke-width="0.8"/><path d="M600.28,66.03 l3.1,2.35 l-3.1,2.35 l-3.1,-2.35 Z" fill="none" stroke="#111" stroke-width="0.8"/><path d="M602.33,65.85 l3.1,2.35 l-3.1,2.35 l-3.1,-2.35 Z" fill="none" stroke="#111" stroke-width="0.8"/><path d="M604.37,65.68 l3.1,2.35 l-3.1,2.35 l-3.1,-2.35 Z" fill="none" stroke="#111" stroke-width="0.8"/><path d="M606.41,65.51 l3.1,2.35 l-3.1,2.35 l-3.1,-2.35 Z" fill="none" stroke="#111" stroke-width="0.8"/><path d="M608.46,65.35 l3.1,2.35 l-3.1,2.35 l-3.1,-2.35 Z" fill="none" stroke="#111" stroke-width="0.8"/><path d="M610.50,65.19 l3.1,2.35 l-3.1,2.35 l-3.1,-2.35 Z" fill="none" stroke="#111" stroke-width="0.8"/><path d="M612.54,65.03 l3.1,2.35 l-3.1,2.35 l-3.1,-2.35 Z" fill="none" stroke="#111" stroke-width="0.8"/><path d="M614.59,64.87 l3.1,2.35 l-3.1,2.35 l-3.1,-2.35 Z" fill="none" stroke="#111" stroke-width="0.8"/><path d="M616.63,64.72 l3.1,2.35 l-3.1,2.35 l-3.1,-2.35 Z" fill="none" stroke="#111" stroke-width="0.8"/><path d="M618.67,64.57 l3.1,2.35 l-3.1,2.35 l-3.1,-2.35 Z" fill="none" stroke="#111" stroke-width="0.8"/><path d="M620.71,64.42 l3.1,2.35 l-3.1,2.35 l-3.1,-2.35 Z" fill="none" stroke="#111" stroke-width="0.8"/><path d="M622.76,64.28 l3.1,2.35 l-3.1,2.35 l-3.1,-2.35 Z" fill="none" stroke="#111" stroke-width="0.8"/><path d="M624.80,64.13 l3.1,2.35 l-3.1,2.35 l-3.1,-2.35 Z" fill="none" stroke="#111" stroke-width="0.8"/>
<g transform="scale(1,0.740)"><path d="M420.50,348.78 L422.54,348.78 L424.59,348.78 L426.63,260.54 L428.67,213.61 L430.71,185.44 L432.76,166.67 L434.80,153.26 L436.84,143.20 L438.89,135.38 L440.93,129.12 L442.97,124.00 L445.02,119.73 L447.06,116.12 L449.10,113.02 L451.14,110.33 L453.19,107.98 L455.23,105.90 L457.27,104.05 L459.32,102.39 L461.36,100.89 L463.40,99.54 L465.45,98.30 L467.49,97.17 L469.53,96.12 L471.57,95.16 L473.62,94.27 L475.66,93.44 L477.70,92.67 L479.75,91.95 L481.79,91.27 L483.83,90.64 L485.88,90.04 L487.92,89.47 L489.96,88.94 L492.00,88.43 L494.05,87.95 L496.09,87.50 L498.13,87.06 L500.18,86.65 L502.22,86.26 L504.26,85.88 L506.31,85.52 L508.35,85.17 L510.39,84.84 L512.43,84.52 L514.48,84.22 L516.52,83.92 L518.56,83.64 L520.61,83.37 L522.65,83.11 L524.69,82.85 L526.74,82.61 L528.78,82.37 L530.82,82.14 L532.87,81.92 L534.91,81.71 L536.95,81.50 L538.99,81.30 L541.04,81.10 L543.08,80.91 L545.12,80.73 L547.17,80.55 L549.21,80.38 L551.25,80.21 L553.30,80.04 L555.34,79.88 L557.38,79.73 L559.42,79.58 L561.47,79.43 L563.51,79.29 L565.55,79.14 L567.60,79.01 L569.64,78.87 L571.68,78.74 L573.73,78.62 L575.77,78.49 L577.81,78.37 L579.85,78.25 L581.90,78.14 L583.94,78.02 L585.98,77.91 L588.03,77.80 L590.07,77.69 L592.11,77.59 L594.15,77.49 L596.20,77.39 L598.24,77.29 L600.28,77.19 L602.33,77.10 L604.37,77.01 L606.41,76.92 L608.46,76.83 L610.50,76.74 L612.54,76.66 L614.59,76.57 L616.63,76.49 L618.67,76.41 L620.71,76.33 L622.76,76.25 L624.80,76.18" fill="none" stroke="#27b6eb" stroke-width="1.9" stroke-linejoin="round"/></g>
<rect x="417.40" y="255.00" width="6.2" height="6.2" fill="#27b6eb"/><rect x="419.44" y="255.00" width="6.2" height="6.2" fill="#27b6eb"/><rect x="421.49" y="255.00" width="6.2" height="6.2" fill="#27b6eb"/><rect x="423.53" y="189.70" width="6.2" height="6.2" fill="#27b6eb"/><rect x="425.57" y="154.97" width="6.2" height="6.2" fill="#27b6eb"/><rect x="427.61" y="134.13" width="6.2" height="6.2" fill="#27b6eb"/><rect x="429.66" y="120.23" width="6.2" height="6.2" fill="#27b6eb"/><rect x="431.70" y="110.31" width="6.2" height="6.2" fill="#27b6eb"/><rect x="433.74" y="102.87" width="6.2" height="6.2" fill="#27b6eb"/><rect x="435.79" y="97.08" width="6.2" height="6.2" fill="#27b6eb"/><rect x="437.83" y="92.45" width="6.2" height="6.2" fill="#27b6eb"/><rect x="439.87" y="88.66" width="6.2" height="6.2" fill="#27b6eb"/><rect x="441.92" y="85.50" width="6.2" height="6.2" fill="#27b6eb"/><rect x="443.96" y="82.83" width="6.2" height="6.2" fill="#27b6eb"/><rect x="446.00" y="80.53" width="6.2" height="6.2" fill="#27b6eb"/><rect x="448.04" y="78.55" width="6.2" height="6.2" fill="#27b6eb"/><rect x="450.09" y="76.80" width="6.2" height="6.2" fill="#27b6eb"/><rect x="452.13" y="75.27" width="6.2" height="6.2" fill="#27b6eb"/><rect x="454.17" y="73.90" width="6.2" height="6.2" fill="#27b6eb"/><rect x="456.22" y="72.67" width="6.2" height="6.2" fill="#27b6eb"/><rect x="458.26" y="71.56" width="6.2" height="6.2" fill="#27b6eb"/><rect x="460.30" y="70.56" width="6.2" height="6.2" fill="#27b6eb"/><rect x="462.35" y="69.64" width="6.2" height="6.2" fill="#27b6eb"/><rect x="464.39" y="68.80" width="6.2" height="6.2" fill="#27b6eb"/><rect x="466.43" y="68.03" width="6.2" height="6.2" fill="#27b6eb"/><rect x="468.47" y="67.32" width="6.2" height="6.2" fill="#27b6eb"/><rect x="470.52" y="66.66" width="6.2" height="6.2" fill="#27b6eb"/><rect x="472.56" y="66.05" width="6.2" height="6.2" fill="#27b6eb"/><rect x="474.60" y="65.48" width="6.2" height="6.2" fill="#27b6eb"/><rect x="476.65" y="64.94" width="6.2" height="6.2" fill="#27b6eb"/><rect x="478.69" y="64.44" width="6.2" height="6.2" fill="#27b6eb"/><rect x="480.73" y="63.97" width="6.2" height="6.2" fill="#27b6eb"/><rect x="482.78" y="63.53" width="6.2" height="6.2" fill="#27b6eb"/><rect x="484.82" y="63.11" width="6.2" height="6.2" fill="#27b6eb"/><rect x="486.86" y="62.71" width="6.2" height="6.2" fill="#27b6eb"/><rect x="488.90" y="62.34" width="6.2" height="6.2" fill="#27b6eb"/><rect x="490.95" y="61.99" width="6.2" height="6.2" fill="#27b6eb"/><rect x="492.99" y="61.65" width="6.2" height="6.2" fill="#27b6eb"/><rect x="495.03" y="61.33" width="6.2" height="6.2" fill="#27b6eb"/><rect x="497.08" y="61.02" width="6.2" height="6.2" fill="#27b6eb"/><rect x="499.12" y="60.73" width="6.2" height="6.2" fill="#27b6eb"/><rect x="501.16" y="60.45" width="6.2" height="6.2" fill="#27b6eb"/><rect x="503.21" y="60.18" width="6.2" height="6.2" fill="#27b6eb"/><rect x="505.25" y="59.93" width="6.2" height="6.2" fill="#27b6eb"/><rect x="507.29" y="59.68" width="6.2" height="6.2" fill="#27b6eb"/><rect x="509.33" y="59.45" width="6.2" height="6.2" fill="#27b6eb"/><rect x="511.38" y="59.22" width="6.2" height="6.2" fill="#27b6eb"/><rect x="513.42" y="59.00" width="6.2" height="6.2" fill="#27b6eb"/><rect x="515.46" y="58.79" width="6.2" height="6.2" fill="#27b6eb"/><rect x="517.51" y="58.59" width="6.2" height="6.2" fill="#27b6eb"/><rect x="519.55" y="58.40" width="6.2" height="6.2" fill="#27b6eb"/><rect x="521.59" y="58.21" width="6.2" height="6.2" fill="#27b6eb"/><rect x="523.64" y="58.03" width="6.2" height="6.2" fill="#27b6eb"/><rect x="525.68" y="57.85" width="6.2" height="6.2" fill="#27b6eb"/><rect x="527.72" y="57.69" width="6.2" height="6.2" fill="#27b6eb"/><rect x="529.76" y="57.52" width="6.2" height="6.2" fill="#27b6eb"/><rect x="531.81" y="57.36" width="6.2" height="6.2" fill="#27b6eb"/><rect x="533.85" y="57.21" width="6.2" height="6.2" fill="#27b6eb"/><rect x="535.89" y="57.06" width="6.2" height="6.2" fill="#27b6eb"/><rect x="537.94" y="56.92" width="6.2" height="6.2" fill="#27b6eb"/><rect x="539.98" y="56.78" width="6.2" height="6.2" fill="#27b6eb"/><rect x="542.02" y="56.64" width="6.2" height="6.2" fill="#27b6eb"/><rect x="544.07" y="56.51" width="6.2" height="6.2" fill="#27b6eb"/><rect x="546.11" y="56.38" width="6.2" height="6.2" fill="#27b6eb"/><rect x="548.15" y="56.25" width="6.2" height="6.2" fill="#27b6eb"/><rect x="550.20" y="56.13" width="6.2" height="6.2" fill="#27b6eb"/><rect x="552.24" y="56.01" width="6.2" height="6.2" fill="#27b6eb"/><rect x="554.28" y="55.90" width="6.2" height="6.2" fill="#27b6eb"/><rect x="556.32" y="55.79" width="6.2" height="6.2" fill="#27b6eb"/><rect x="558.37" y="55.68" width="6.2" height="6.2" fill="#27b6eb"/><rect x="560.41" y="55.57" width="6.2" height="6.2" fill="#27b6eb"/><rect x="562.45" y="55.47" width="6.2" height="6.2" fill="#27b6eb"/><rect x="564.50" y="55.37" width="6.2" height="6.2" fill="#27b6eb"/><rect x="566.54" y="55.27" width="6.2" height="6.2" fill="#27b6eb"/><rect x="568.58" y="55.17" width="6.2" height="6.2" fill="#27b6eb"/><rect x="570.62" y="55.08" width="6.2" height="6.2" fill="#27b6eb"/><rect x="572.67" y="54.98" width="6.2" height="6.2" fill="#27b6eb"/><rect x="574.71" y="54.89" width="6.2" height="6.2" fill="#27b6eb"/><rect x="576.75" y="54.81" width="6.2" height="6.2" fill="#27b6eb"/><rect x="578.80" y="54.72" width="6.2" height="6.2" fill="#27b6eb"/><rect x="580.84" y="54.64" width="6.2" height="6.2" fill="#27b6eb"/><rect x="582.88" y="54.55" width="6.2" height="6.2" fill="#27b6eb"/><rect x="584.93" y="54.47" width="6.2" height="6.2" fill="#27b6eb"/><rect x="586.97" y="54.39" width="6.2" height="6.2" fill="#27b6eb"/><rect x="589.01" y="54.32" width="6.2" height="6.2" fill="#27b6eb"/><rect x="591.05" y="54.24" width="6.2" height="6.2" fill="#27b6eb"/><rect x="593.10" y="54.17" width="6.2" height="6.2" fill="#27b6eb"/><rect x="595.14" y="54.10" width="6.2" height="6.2" fill="#27b6eb"/><rect x="597.18" y="54.02" width="6.2" height="6.2" fill="#27b6eb"/><rect x="599.23" y="53.95" width="6.2" height="6.2" fill="#27b6eb"/><rect x="601.27" y="53.89" width="6.2" height="6.2" fill="#27b6eb"/><rect x="603.31" y="53.82" width="6.2" height="6.2" fill="#27b6eb"/><rect x="605.36" y="53.75" width="6.2" height="6.2" fill="#27b6eb"/><rect x="607.40" y="53.69" width="6.2" height="6.2" fill="#27b6eb"/><rect x="609.44" y="53.63" width="6.2" height="6.2" fill="#27b6eb"/><rect x="611.49" y="53.56" width="6.2" height="6.2" fill="#27b6eb"/><rect x="613.53" y="53.50" width="6.2" height="6.2" fill="#27b6eb"/><rect x="615.57" y="53.44" width="6.2" height="6.2" fill="#27b6eb"/><rect x="617.61" y="53.38" width="6.2" height="6.2" fill="#27b6eb"/><rect x="619.66" y="53.33" width="6.2" height="6.2" fill="#27b6eb"/><rect x="621.70" y="53.27" width="6.2" height="6.2" fill="#27b6eb"/>
<g transform="scale(1,0.740)"><path d="M420.50,348.78 L422.54,348.78 L424.59,210.79 L426.63,163.85 L428.67,140.38 L430.71,126.30 L432.76,116.92 L434.80,110.21 L436.84,105.18 L438.89,101.27 L440.93,98.14 L442.97,95.58 L445.02,93.45 L447.06,91.64 L449.10,90.09 L451.14,88.75 L453.19,87.57 L455.23,86.53 L457.27,85.60 L459.32,84.77 L461.36,84.02 L463.40,83.34 L465.45,82.72 L467.49,82.16 L469.53,81.63 L471.57,81.15 L473.62,80.71 L475.66,80.29 L477.70,79.91 L479.75,79.54 L481.79,79.21 L483.83,78.89 L485.88,78.59 L487.92,78.31 L489.96,78.04 L492.00,77.79 L494.05,77.55 L496.09,77.32 L498.13,77.10 L500.18,76.89 L502.22,76.70 L504.26,76.51 L506.31,76.33 L508.35,76.15 L510.39,75.99 L512.43,75.83 L514.48,75.68 L516.52,75.53 L518.56,75.39 L520.61,75.25 L522.65,75.12 L524.69,74.99 L526.74,74.87 L528.78,74.75 L530.82,74.64 L532.87,74.53 L534.91,74.42 L536.95,74.32 L538.99,74.22 L541.04,74.12 L543.08,74.03 L545.12,73.93 L547.17,73.84 L549.21,73.76 L551.25,73.67 L553.30,73.59 L555.34,73.51 L557.38,73.43 L559.42,73.36 L561.47,73.28 L563.51,73.21 L565.55,73.14 L567.60,73.07 L569.64,73.01 L571.68,72.94 L573.73,72.88 L575.77,72.82 L577.81,72.75 L579.85,72.70 L581.90,72.64 L583.94,72.58 L585.98,72.53 L588.03,72.47 L590.07,72.42 L592.11,72.37 L594.15,72.31 L596.20,72.26 L598.24,72.22 L600.28,72.17 L602.33,72.12 L604.37,72.07 L606.41,72.03 L608.46,71.99 L610.50,71.94 L612.54,71.90 L614.59,71.86 L616.63,71.82 L618.67,71.78 L620.71,71.74 L622.76,71.70 L624.80,71.66" fill="none" stroke="#ffe600" stroke-width="2.0" stroke-linejoin="round"/></g>
<rect x="417.50" y="255.05" width="6.0" height="6.1" fill="none" stroke="#f2da10" stroke-width="0.5"/><rect x="419.54" y="255.05" width="6.0" height="6.1" fill="none" stroke="#f2da10" stroke-width="0.5"/><rect x="421.59" y="152.93" width="6.0" height="6.1" fill="none" stroke="#f2da10" stroke-width="0.5"/><rect x="423.63" y="118.20" width="6.0" height="6.1" fill="none" stroke="#f2da10" stroke-width="0.5"/><rect x="425.67" y="100.83" width="6.0" height="6.1" fill="none" stroke="#f2da10" stroke-width="0.5"/><rect x="427.71" y="90.41" width="6.0" height="6.1" fill="none" stroke="#f2da10" stroke-width="0.5"/><rect x="429.76" y="83.47" width="6.0" height="6.1" fill="none" stroke="#f2da10" stroke-width="0.5"/><rect x="431.80" y="78.51" width="6.0" height="6.1" fill="none" stroke="#f2da10" stroke-width="0.5"/><rect x="433.84" y="74.78" width="6.0" height="6.1" fill="none" stroke="#f2da10" stroke-width="0.5"/><rect x="435.89" y="71.89" width="6.0" height="6.1" fill="none" stroke="#f2da10" stroke-width="0.5"/><rect x="437.93" y="69.57" width="6.0" height="6.1" fill="none" stroke="#f2da10" stroke-width="0.5"/><rect x="439.97" y="67.68" width="6.0" height="6.1" fill="none" stroke="#f2da10" stroke-width="0.5"/><rect x="442.02" y="66.10" width="6.0" height="6.1" fill="none" stroke="#f2da10" stroke-width="0.5"/><rect x="444.06" y="64.76" width="6.0" height="6.1" fill="none" stroke="#f2da10" stroke-width="0.5"/><rect x="446.10" y="63.62" width="6.0" height="6.1" fill="none" stroke="#f2da10" stroke-width="0.5"/><rect x="448.14" y="62.62" width="6.0" height="6.1" fill="none" stroke="#f2da10" stroke-width="0.5"/><rect x="450.19" y="61.75" width="6.0" height="6.1" fill="none" stroke="#f2da10" stroke-width="0.5"/><rect x="452.23" y="60.98" width="6.0" height="6.1" fill="none" stroke="#f2da10" stroke-width="0.5"/><rect x="454.27" y="60.30" width="6.0" height="6.1" fill="none" stroke="#f2da10" stroke-width="0.5"/><rect x="456.32" y="59.68" width="6.0" height="6.1" fill="none" stroke="#f2da10" stroke-width="0.5"/><rect x="458.36" y="59.13" width="6.0" height="6.1" fill="none" stroke="#f2da10" stroke-width="0.5"/><rect x="460.40" y="58.62" width="6.0" height="6.1" fill="none" stroke="#f2da10" stroke-width="0.5"/><rect x="462.45" y="58.17" width="6.0" height="6.1" fill="none" stroke="#f2da10" stroke-width="0.5"/><rect x="464.49" y="57.75" width="6.0" height="6.1" fill="none" stroke="#f2da10" stroke-width="0.5"/><rect x="466.53" y="57.36" width="6.0" height="6.1" fill="none" stroke="#f2da10" stroke-width="0.5"/><rect x="468.57" y="57.00" width="6.0" height="6.1" fill="none" stroke="#f2da10" stroke-width="0.5"/><rect x="470.62" y="56.67" width="6.0" height="6.1" fill="none" stroke="#f2da10" stroke-width="0.5"/><rect x="472.66" y="56.37" width="6.0" height="6.1" fill="none" stroke="#f2da10" stroke-width="0.5"/><rect x="474.70" y="56.08" width="6.0" height="6.1" fill="none" stroke="#f2da10" stroke-width="0.5"/><rect x="476.75" y="55.81" width="6.0" height="6.1" fill="none" stroke="#f2da10" stroke-width="0.5"/><rect x="478.79" y="55.56" width="6.0" height="6.1" fill="none" stroke="#f2da10" stroke-width="0.5"/><rect x="480.83" y="55.33" width="6.0" height="6.1" fill="none" stroke="#f2da10" stroke-width="0.5"/><rect x="482.88" y="55.11" width="6.0" height="6.1" fill="none" stroke="#f2da10" stroke-width="0.5"/><rect x="484.92" y="54.90" width="6.0" height="6.1" fill="none" stroke="#f2da10" stroke-width="0.5"/><rect x="486.96" y="54.70" width="6.0" height="6.1" fill="none" stroke="#f2da10" stroke-width="0.5"/><rect x="489.00" y="54.51" width="6.0" height="6.1" fill="none" stroke="#f2da10" stroke-width="0.5"/><rect x="491.05" y="54.33" width="6.0" height="6.1" fill="none" stroke="#f2da10" stroke-width="0.5"/><rect x="493.09" y="54.17" width="6.0" height="6.1" fill="none" stroke="#f2da10" stroke-width="0.5"/><rect x="495.13" y="54.00" width="6.0" height="6.1" fill="none" stroke="#f2da10" stroke-width="0.5"/><rect x="497.18" y="53.85" width="6.0" height="6.1" fill="none" stroke="#f2da10" stroke-width="0.5"/><rect x="499.22" y="53.71" width="6.0" height="6.1" fill="none" stroke="#f2da10" stroke-width="0.5"/><rect x="501.26" y="53.57" width="6.0" height="6.1" fill="none" stroke="#f2da10" stroke-width="0.5"/><rect x="503.31" y="53.43" width="6.0" height="6.1" fill="none" stroke="#f2da10" stroke-width="0.5"/><rect x="505.35" y="53.30" width="6.0" height="6.1" fill="none" stroke="#f2da10" stroke-width="0.5"/><rect x="507.39" y="53.18" width="6.0" height="6.1" fill="none" stroke="#f2da10" stroke-width="0.5"/><rect x="509.43" y="53.06" width="6.0" height="6.1" fill="none" stroke="#f2da10" stroke-width="0.5"/><rect x="511.48" y="52.95" width="6.0" height="6.1" fill="none" stroke="#f2da10" stroke-width="0.5"/><rect x="513.52" y="52.84" width="6.0" height="6.1" fill="none" stroke="#f2da10" stroke-width="0.5"/><rect x="515.56" y="52.74" width="6.0" height="6.1" fill="none" stroke="#f2da10" stroke-width="0.5"/><rect x="517.61" y="52.64" width="6.0" height="6.1" fill="none" stroke="#f2da10" stroke-width="0.5"/><rect x="519.65" y="52.54" width="6.0" height="6.1" fill="none" stroke="#f2da10" stroke-width="0.5"/><rect x="521.69" y="52.45" width="6.0" height="6.1" fill="none" stroke="#f2da10" stroke-width="0.5"/><rect x="523.74" y="52.36" width="6.0" height="6.1" fill="none" stroke="#f2da10" stroke-width="0.5"/><rect x="525.78" y="52.27" width="6.0" height="6.1" fill="none" stroke="#f2da10" stroke-width="0.5"/><rect x="527.82" y="52.18" width="6.0" height="6.1" fill="none" stroke="#f2da10" stroke-width="0.5"/><rect x="529.87" y="52.10" width="6.0" height="6.1" fill="none" stroke="#f2da10" stroke-width="0.5"/><rect x="531.91" y="52.02" width="6.0" height="6.1" fill="none" stroke="#f2da10" stroke-width="0.5"/><rect x="533.95" y="51.95" width="6.0" height="6.1" fill="none" stroke="#f2da10" stroke-width="0.5"/><rect x="535.99" y="51.87" width="6.0" height="6.1" fill="none" stroke="#f2da10" stroke-width="0.5"/><rect x="538.04" y="51.80" width="6.0" height="6.1" fill="none" stroke="#f2da10" stroke-width="0.5"/><rect x="540.08" y="51.73" width="6.0" height="6.1" fill="none" stroke="#f2da10" stroke-width="0.5"/><rect x="542.12" y="51.66" width="6.0" height="6.1" fill="none" stroke="#f2da10" stroke-width="0.5"/><rect x="544.17" y="51.59" width="6.0" height="6.1" fill="none" stroke="#f2da10" stroke-width="0.5"/><rect x="546.21" y="51.53" width="6.0" height="6.1" fill="none" stroke="#f2da10" stroke-width="0.5"/><rect x="548.25" y="51.47" width="6.0" height="6.1" fill="none" stroke="#f2da10" stroke-width="0.5"/><rect x="550.30" y="51.41" width="6.0" height="6.1" fill="none" stroke="#f2da10" stroke-width="0.5"/><rect x="552.34" y="51.35" width="6.0" height="6.1" fill="none" stroke="#f2da10" stroke-width="0.5"/><rect x="554.38" y="51.29" width="6.0" height="6.1" fill="none" stroke="#f2da10" stroke-width="0.5"/><rect x="556.42" y="51.23" width="6.0" height="6.1" fill="none" stroke="#f2da10" stroke-width="0.5"/><rect x="558.47" y="51.18" width="6.0" height="6.1" fill="none" stroke="#f2da10" stroke-width="0.5"/><rect x="560.51" y="51.13" width="6.0" height="6.1" fill="none" stroke="#f2da10" stroke-width="0.5"/><rect x="562.55" y="51.07" width="6.0" height="6.1" fill="none" stroke="#f2da10" stroke-width="0.5"/><rect x="564.60" y="51.02" width="6.0" height="6.1" fill="none" stroke="#f2da10" stroke-width="0.5"/><rect x="566.64" y="50.97" width="6.0" height="6.1" fill="none" stroke="#f2da10" stroke-width="0.5"/><rect x="568.68" y="50.93" width="6.0" height="6.1" fill="none" stroke="#f2da10" stroke-width="0.5"/><rect x="570.73" y="50.88" width="6.0" height="6.1" fill="none" stroke="#f2da10" stroke-width="0.5"/><rect x="572.77" y="50.83" width="6.0" height="6.1" fill="none" stroke="#f2da10" stroke-width="0.5"/><rect x="574.81" y="50.79" width="6.0" height="6.1" fill="none" stroke="#f2da10" stroke-width="0.5"/><rect x="576.85" y="50.74" width="6.0" height="6.1" fill="none" stroke="#f2da10" stroke-width="0.5"/><rect x="578.90" y="50.70" width="6.0" height="6.1" fill="none" stroke="#f2da10" stroke-width="0.5"/><rect x="580.94" y="50.66" width="6.0" height="6.1" fill="none" stroke="#f2da10" stroke-width="0.5"/><rect x="582.98" y="50.62" width="6.0" height="6.1" fill="none" stroke="#f2da10" stroke-width="0.5"/><rect x="585.03" y="50.58" width="6.0" height="6.1" fill="none" stroke="#f2da10" stroke-width="0.5"/><rect x="587.07" y="50.54" width="6.0" height="6.1" fill="none" stroke="#f2da10" stroke-width="0.5"/><rect x="589.11" y="50.50" width="6.0" height="6.1" fill="none" stroke="#f2da10" stroke-width="0.5"/><rect x="591.15" y="50.46" width="6.0" height="6.1" fill="none" stroke="#f2da10" stroke-width="0.5"/><rect x="593.20" y="50.43" width="6.0" height="6.1" fill="none" stroke="#f2da10" stroke-width="0.5"/><rect x="595.24" y="50.39" width="6.0" height="6.1" fill="none" stroke="#f2da10" stroke-width="0.5"/><rect x="597.28" y="50.35" width="6.0" height="6.1" fill="none" stroke="#f2da10" stroke-width="0.5"/><rect x="599.33" y="50.32" width="6.0" height="6.1" fill="none" stroke="#f2da10" stroke-width="0.5"/><rect x="601.37" y="50.29" width="6.0" height="6.1" fill="none" stroke="#f2da10" stroke-width="0.5"/><rect x="603.41" y="50.25" width="6.0" height="6.1" fill="none" stroke="#f2da10" stroke-width="0.5"/><rect x="605.46" y="50.22" width="6.0" height="6.1" fill="none" stroke="#f2da10" stroke-width="0.5"/><rect x="607.50" y="50.19" width="6.0" height="6.1" fill="none" stroke="#f2da10" stroke-width="0.5"/><rect x="609.54" y="50.16" width="6.0" height="6.1" fill="none" stroke="#f2da10" stroke-width="0.5"/><rect x="611.59" y="50.12" width="6.0" height="6.1" fill="none" stroke="#f2da10" stroke-width="0.5"/><rect x="613.63" y="50.09" width="6.0" height="6.1" fill="none" stroke="#f2da10" stroke-width="0.5"/><rect x="615.67" y="50.06" width="6.0" height="6.1" fill="none" stroke="#f2da10" stroke-width="0.5"/><rect x="617.71" y="50.03" width="6.0" height="6.1" fill="none" stroke="#f2da10" stroke-width="0.5"/><rect x="619.76" y="50.01" width="6.0" height="6.1" fill="none" stroke="#f2da10" stroke-width="0.5"/><rect x="621.80" y="49.98" width="6.0" height="6.1" fill="none" stroke="#f2da10" stroke-width="0.5"/>
</g>
<g stroke="#8a8a8a" stroke-width="0.8" fill="none">
<line x1="416.5" y1="48.9" x2="416.5" y2="262.4"/>
<line x1="416.1" y1="262.4" x2="625.4" y2="262.4"/>
<line x1="416.5" y1="258.10" x2="419.6" y2="258.10"/>
<line x1="420.50" y1="262.4" x2="420.50" y2="259.2"/>
<line x1="416.5" y1="216.42" x2="419.6" y2="216.42"/>
<line x1="461.36" y1="262.4" x2="461.36" y2="259.2"/>
<line x1="416.5" y1="174.74" x2="419.6" y2="174.74"/>
<line x1="502.22" y1="262.4" x2="502.22" y2="259.2"/>
<line x1="416.5" y1="133.06" x2="419.6" y2="133.06"/>
<line x1="543.08" y1="262.4" x2="543.08" y2="259.2"/>
<line x1="416.5" y1="91.38" x2="419.6" y2="91.38"/>
<line x1="583.94" y1="262.4" x2="583.94" y2="259.2"/>
<line x1="416.5" y1="49.70" x2="419.6" y2="49.70"/>
<line x1="624.80" y1="262.4" x2="624.80" y2="259.2"/>
</g>
<text transform="translate(393.70,263.80) scale(0.956,1)" font-family="Liberation Sans" font-size="13.80" text-anchor="start" fill="#141414" letter-spacing="-1.10" stroke="#141414" stroke-width="0.20">0.0</text>
<text transform="translate(410.40,278.90) scale(0.956,1)" font-family="Liberation Sans" font-size="13.80" text-anchor="start" fill="#141414" letter-spacing="-1.10" stroke="#141414" stroke-width="0.20">0.0</text>
<text transform="translate(393.70,222.12) scale(0.956,1)" font-family="Liberation Sans" font-size="13.80" text-anchor="start" fill="#141414" letter-spacing="-1.10" stroke="#141414" stroke-width="0.20">0.2</text>
<text transform="translate(451.66,278.90) scale(0.956,1)" font-family="Liberation Sans" font-size="13.80" text-anchor="start" fill="#141414" letter-spacing="-1.10" stroke="#141414" stroke-width="0.20">0.2</text>
<text transform="translate(393.70,180.44) scale(0.956,1)" font-family="Liberation Sans" font-size="13.80" text-anchor="start" fill="#141414" letter-spacing="-1.10" stroke="#141414" stroke-width="0.20">0.4</text>
<text transform="translate(492.92,278.90) scale(0.956,1)" font-family="Liberation Sans" font-size="13.80" text-anchor="start" fill="#141414" letter-spacing="-1.10" stroke="#141414" stroke-width="0.20">0.4</text>
<text transform="translate(393.70,138.76) scale(0.956,1)" font-family="Liberation Sans" font-size="13.80" text-anchor="start" fill="#141414" letter-spacing="-1.10" stroke="#141414" stroke-width="0.20">0.6</text>
<text transform="translate(534.18,278.90) scale(0.956,1)" font-family="Liberation Sans" font-size="13.80" text-anchor="start" fill="#141414" letter-spacing="-1.10" stroke="#141414" stroke-width="0.20">0.6</text>
<text transform="translate(393.70,97.08) scale(0.956,1)" font-family="Liberation Sans" font-size="13.80" text-anchor="start" fill="#141414" letter-spacing="-1.10" stroke="#141414" stroke-width="0.20">0.8</text>
<text transform="translate(575.44,278.90) scale(0.956,1)" font-family="Liberation Sans" font-size="13.80" text-anchor="start" fill="#141414" letter-spacing="-1.10" stroke="#141414" stroke-width="0.20">0.8</text>
<text transform="translate(393.70,55.40) scale(0.956,1)" font-family="Liberation Sans" font-size="13.80" text-anchor="start" fill="#141414" letter-spacing="-1.10" stroke="#141414" stroke-width="0.20">1.0</text>
<text transform="translate(616.70,278.90) scale(0.956,1)" font-family="Liberation Sans" font-size="13.80" text-anchor="start" fill="#141414" letter-spacing="-1.10" stroke="#141414" stroke-width="0.20">1.0</text>
<text transform="translate(512.60,302.30) scale(0.750,1)" font-family="Liberation Sans" font-size="22.00" text-anchor="start" fill="#141414" font-style="italic" stroke="#141414" stroke-width="0.30">c</text>
<text transform="translate(522.00,305.50) scale(0.800,1)" font-family="Liberation Sans" font-size="13.80" text-anchor="start" fill="#141414" font-style="italic" stroke="#141414" stroke-width="0.25">H</text>
<g transform="translate(379.10,159.50) rotate(-90) scale(10.100,11.500)" fill="none" stroke="#141414" stroke-linecap="round"><path d="M0.13,0.26 C0.18,0.08 0.32,-0.03 0.41,0.12" stroke-width="0.102"/><path d="M0.40,0.12 L0.60,0.86" stroke-width="0.222"/><path d="M0.60,0.88 C0.65,1.03 0.80,0.99 0.95,0.75" stroke-width="0.102"/><path d="M0.91,0.11 C0.80,0.02 0.68,0.16 0.52,0.44 C0.40,0.66 0.27,0.99 0.10,0.90" stroke-width="0.102"/><circle cx="0.90" cy="0.115" r="0.102" fill="#141414" stroke="none"/><circle cx="0.10" cy="0.895" r="0.102" fill="#141414" stroke="none"/></g>
<g stroke="#141414" stroke-width="0.9" stroke-linecap="round"><line x1="373.6" y1="146.2" x2="379.8" y2="146.2"/><line x1="375.0" y1="143.6" x2="378.4" y2="148.8"/><line x1="378.4" y1="143.6" x2="375.0" y2="148.8"/></g>
<g transform="translate(423.00,57.50) scale(7.600,7.700)" fill="none" stroke="#141414" stroke-linecap="round"><path d="M0.13,0.26 C0.18,0.08 0.32,-0.03 0.41,0.12" stroke-width="0.111"/><path d="M0.40,0.12 L0.60,0.86" stroke-width="0.240"/><path d="M0.60,0.88 C0.65,1.03 0.80,0.99 0.95,0.75" stroke-width="0.111"/><path d="M0.91,0.11 C0.80,0.02 0.68,0.16 0.52,0.44 C0.40,0.66 0.27,0.99 0.10,0.90" stroke-width="0.111"/><circle cx="0.90" cy="0.115" r="0.111" fill="#141414" stroke="none"/><circle cx="0.10" cy="0.895" r="0.111" fill="#141414" stroke="none"/></g>
<circle cx="426.1" cy="55.3" r="0.95" fill="#141414"/>
<text transform="translate(431.70,65.30) scale(1.120,1)" font-family="Liberation Serif" font-size="17.70" text-anchor="start" fill="#141414" stroke="#141414" stroke-width="0.30">&lt;0</text>
<g transform="translate(514.60,197.30) scale(9.500,8.500)" fill="none" stroke="#141414" stroke-linecap="round"><path d="M0.13,0.26 C0.18,0.08 0.32,-0.03 0.41,0.12" stroke-width="0.106"/><path d="M0.40,0.12 L0.60,0.86" stroke-width="0.231"/><path d="M0.60,0.88 C0.65,1.03 0.80,0.99 0.95,0.75" stroke-width="0.106"/><path d="M0.91,0.11 C0.80,0.02 0.68,0.16 0.52,0.44 C0.40,0.66 0.27,0.99 0.10,0.90" stroke-width="0.106"/><circle cx="0.90" cy="0.115" r="0.106" fill="#141414" stroke="none"/><circle cx="0.10" cy="0.895" r="0.106" fill="#141414" stroke="none"/></g>
<circle cx="518.2" cy="194.8" r="1.05" fill="#141414"/>
<text transform="translate(524.50,205.80) scale(1.130,1)" font-family="Liberation Serif" font-size="19.00" text-anchor="start" fill="#141414" stroke="#141414" stroke-width="0.30">&gt;0</text>
<line x1="341.3" y1="327.3" x2="675" y2="327.3" stroke="#555" stroke-width="0.95"/>
<circle cx="354.9" cy="342.0" r="6.4" fill="#fff" stroke="#ee3a43" stroke-width="1"/>
<path d="M413.7,335.8 l6.3,6.5 l-6.3,6.5 l-6.3,-6.5 Z" fill="#2a9aaa" stroke="#d5cfae" stroke-width="0.5"/>
<path d="M484.9,335.6 l6.6,6.7 l-6.6,6.7 l-6.6,-6.7 Z" fill="#fff" stroke="#222" stroke-width="0.9"/>
<rect x="549.1" y="335.6" width="12.9" height="13.1" fill="#2bb5ea"/>
<rect x="611.7" y="335.6" width="12.6" height="13.0" fill="#fff" stroke="#f3d416" stroke-width="1.3"/>
<text transform="translate(365.20,346.30) scale(0.960,1)" font-family="Liberation Sans" font-size="11.90" text-anchor="start" fill="#141414" letter-spacing="-0.10" stroke="#141414" stroke-width="0.15">N=5</text>
<text transform="translate(424.80,346.70) scale(0.960,1)" font-family="Liberation Sans" font-size="11.90" text-anchor="start" fill="#141414" letter-spacing="-0.10" stroke="#141414" stroke-width="0.15">N=10</text>
<text transform="translate(494.10,346.90) scale(0.960,1)" font-family="Liberation Sans" font-size="11.90" text-anchor="start" fill="#141414" letter-spacing="-0.10" stroke="#141414" stroke-width="0.15">N=20</text>
<text transform="translate(564.80,346.70) scale(0.960,1)" font-family="Liberation Sans" font-size="11.90" text-anchor="start" fill="#141414" letter-spacing="-0.10" stroke="#141414" stroke-width="0.15">N=50</text>
<text transform="translate(627.10,345.70) scale(0.960,1)" font-family="Liberation Sans" font-size="11.90" text-anchor="start" fill="#141414" letter-spacing="-0.10" stroke="#141414" stroke-width="0.15">N=100</text>
</svg></body></html>
